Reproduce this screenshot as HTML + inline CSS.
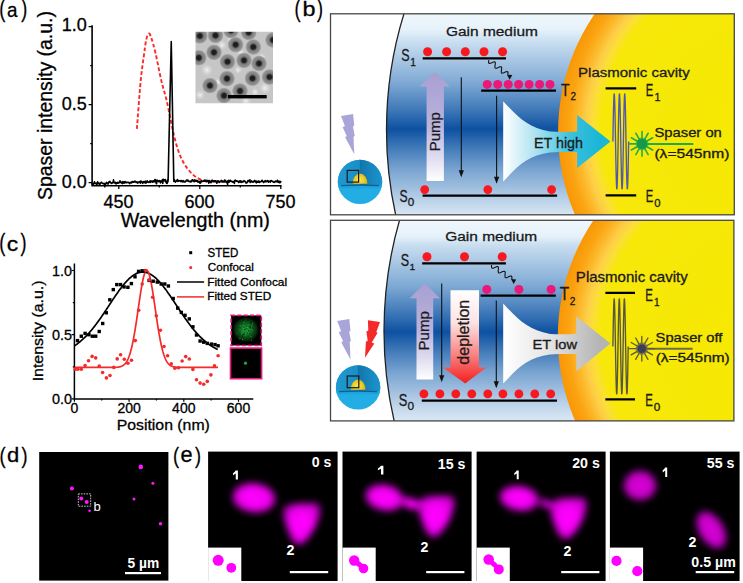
<!DOCTYPE html>
<html><head><meta charset="utf-8"><style>
html,body{margin:0;padding:0;background:#fff;}
svg{display:block;font-family:"Liberation Sans",sans-serif;}
.pt text{stroke:#000;stroke-width:0.3px;}
</style></head><body>
<svg width="743" height="583" viewBox="0 0 743 583">
<defs><clipPath id="temclip"><rect x="195.5" y="31.7" width="77.5" height="71.6"/></clipPath>
<radialGradient id="halo"><stop offset="0" stop-color="#1a1a1a"/><stop offset="0.28" stop-color="#242424"/><stop offset="0.42" stop-color="#6a6a6a"/><stop offset="0.56" stop-color="#848484"/><stop offset="0.78" stop-color="#8e8e8e"/><stop offset="0.9" stop-color="#a4a4a4" stop-opacity="0.85"/><stop offset="1" stop-color="#b0b0b0" stop-opacity="0"/></radialGradient>
<radialGradient id="hil"><stop offset="0" stop-color="#f0f0f0"/><stop offset="1" stop-color="#e0e0e0" stop-opacity="0"/></radialGradient>
<filter id="temblur" x="0" y="0" width="1" height="1"><feGaussianBlur stdDeviation="0.5"/></filter>
<clipPath id="box1"><rect x="330.5" y="13.8" width="403.8" height="201"/></clipPath>
<linearGradient id="blue1" x1="0" y1="13.8" x2="0" y2="214.8" gradientUnits="userSpaceOnUse"><stop offset="0.0000" stop-color="#eef7fc"/><stop offset="0.0796" stop-color="#e6f2fa"/><stop offset="0.1403" stop-color="#c9def0"/><stop offset="0.3443" stop-color="#7ea9d4"/><stop offset="0.4836" stop-color="#3c76b7"/><stop offset="0.5731" stop-color="#0d51a1"/><stop offset="0.6627" stop-color="#3f78b8"/><stop offset="0.7721" stop-color="#78a3d0"/><stop offset="0.9612" stop-color="#c8dbee"/><stop offset="1.0000" stop-color="#d9e7f3"/></linearGradient>
<radialGradient id="yel1" cx="767.75" cy="132.3" r="209.7" gradientUnits="userSpaceOnUse"><stop offset="0.0000" stop-color="#f6e900"/><stop offset="0.7949" stop-color="#f7e80a"/><stop offset="0.8331" stop-color="#fbdf36"/><stop offset="0.8665" stop-color="#fdcf48"/><stop offset="0.9046" stop-color="#fcb92c"/><stop offset="0.9475" stop-color="#fba412"/><stop offset="1.0000" stop-color="#f99606"/></radialGradient>
<clipPath id="box2"><rect x="330.5" y="220.3" width="403.4" height="200.6"/></clipPath>
<linearGradient id="blue2" x1="0" y1="220.3" x2="0" y2="420.9" gradientUnits="userSpaceOnUse"><stop offset="0.0000" stop-color="#eef7fc"/><stop offset="0.0798" stop-color="#e6f2fa"/><stop offset="0.1231" stop-color="#c9def0"/><stop offset="0.3275" stop-color="#7ea9d4"/><stop offset="0.4671" stop-color="#3c76b7"/><stop offset="0.5568" stop-color="#0d51a1"/><stop offset="0.6466" stop-color="#3f78b8"/><stop offset="0.7562" stop-color="#78a3d0"/><stop offset="0.9457" stop-color="#c8dbee"/><stop offset="1.0000" stop-color="#d9e7f3"/></linearGradient>
<radialGradient id="yel2" cx="767.5" cy="337.3" r="209.7" gradientUnits="userSpaceOnUse"><stop offset="0.0000" stop-color="#f6e900"/><stop offset="0.7949" stop-color="#f7e80a"/><stop offset="0.8331" stop-color="#fbdf36"/><stop offset="0.8665" stop-color="#fdcf48"/><stop offset="0.9046" stop-color="#fcb92c"/><stop offset="0.9475" stop-color="#fba412"/><stop offset="1.0000" stop-color="#f99606"/></radialGradient>
<clipPath id="spha"><circle cx="360" cy="181.9" r="22.2"/></clipPath>
<radialGradient id="golda" cx="360" cy="181.3" r="10" gradientUnits="userSpaceOnUse" fx="359" fy="179.3"><stop offset="0" stop-color="#f9e45a"/><stop offset="0.55" stop-color="#e9c61c"/><stop offset="1" stop-color="#b89310"/></radialGradient>
<linearGradient id="rwa" x1="359.6" y1="0" x2="382" y2="0" gradientUnits="userSpaceOnUse"><stop offset="0" stop-color="#1274a9"/><stop offset="0.5" stop-color="#1786bd"/><stop offset="1" stop-color="#1b93cb"/></linearGradient>
<linearGradient id="lwa" x1="338" y1="0" x2="359.6" y2="0" gradientUnits="userSpaceOnUse"><stop offset="0" stop-color="#1e9ad1"/><stop offset="1" stop-color="#1a8ec6"/></linearGradient>
<linearGradient id="pump1" x1="0" y1="72" x2="0" y2="181" gradientUnits="userSpaceOnUse"><stop offset="0" stop-color="#a79fd1"/><stop offset="0.5" stop-color="#bab3dd"/><stop offset="0.8" stop-color="#e2dff0"/><stop offset="1" stop-color="#ffffff"/></linearGradient>
<linearGradient id="et1" x1="503" y1="0" x2="600" y2="0" gradientUnits="userSpaceOnUse"><stop offset="0" stop-color="#ffffff"/><stop offset="0.35" stop-color="#a9e1f0"/><stop offset="0.7" stop-color="#3cc0dc"/><stop offset="1" stop-color="#19b6d6"/></linearGradient>
<clipPath id="sphb"><circle cx="358.1" cy="387.4" r="22.2"/></clipPath>
<radialGradient id="goldb" cx="358.1" cy="387.3" r="10" gradientUnits="userSpaceOnUse" fx="357.1" fy="385.3"><stop offset="0" stop-color="#f9e45a"/><stop offset="0.55" stop-color="#e9c61c"/><stop offset="1" stop-color="#b89310"/></radialGradient>
<linearGradient id="rwb" x1="357.7" y1="0" x2="380.1" y2="0" gradientUnits="userSpaceOnUse"><stop offset="0" stop-color="#1274a9"/><stop offset="0.5" stop-color="#1786bd"/><stop offset="1" stop-color="#1b93cb"/></linearGradient>
<linearGradient id="lwb" x1="336.1" y1="0" x2="357.7" y2="0" gradientUnits="userSpaceOnUse"><stop offset="0" stop-color="#1e9ad1"/><stop offset="1" stop-color="#1a8ec6"/></linearGradient>
<linearGradient id="pump2" x1="0" y1="283" x2="0" y2="379.4" gradientUnits="userSpaceOnUse"><stop offset="0" stop-color="#a79fd1"/><stop offset="0.5" stop-color="#bab3dd"/><stop offset="0.8" stop-color="#e2dff0"/><stop offset="1" stop-color="#ffffff"/></linearGradient>
<linearGradient id="depl" x1="0" y1="290" x2="0" y2="383.4" gradientUnits="userSpaceOnUse"><stop offset="0" stop-color="#ffffff"/><stop offset="0.35" stop-color="#fde3e3"/><stop offset="0.7" stop-color="#f98080"/><stop offset="1" stop-color="#f41e1e"/></linearGradient>
<linearGradient id="et2" x1="503" y1="0" x2="600" y2="0" gradientUnits="userSpaceOnUse"><stop offset="0" stop-color="#ffffff"/><stop offset="0.45" stop-color="#e6e6e6"/><stop offset="1" stop-color="#b4b4b4"/></linearGradient>
<radialGradient id="gblob"><stop offset="0" stop-color="#1e9c38"/><stop offset="0.25" stop-color="#168530"/><stop offset="0.55" stop-color="#0c5019"/><stop offset="0.8" stop-color="#06280c"/><stop offset="1" stop-color="#000" stop-opacity="0"/></radialGradient>
<filter id="blur" x="-50%" y="-50%" width="200%" height="200%"><feGaussianBlur stdDeviation="3.8"/></filter>
<radialGradient id="mg"><stop offset="0" stop-color="#ff00ff"/><stop offset="0.55" stop-color="#f800f8"/><stop offset="1" stop-color="#c800c8"/></radialGradient>
<filter id="blur2" x="-50%" y="-50%" width="200%" height="200%"><feGaussianBlur stdDeviation="0.7"/></filter>
<clipPath id="ep0"><rect x="208.1" y="451.6" width="129.5" height="129.4"/></clipPath>
<clipPath id="ep1"><rect x="342.5" y="451.6" width="129.1" height="129.4"/></clipPath>
<clipPath id="ep2"><rect x="476.6" y="451.6" width="129" height="129.4"/></clipPath>
<clipPath id="ep3"><rect x="609.9" y="451.6" width="129.7" height="129.4"/></clipPath></defs>
<g id="pa" class="pt"><g stroke="#000" stroke-width="0.3"><text x="-0.82" y="16.7" font-size="23.18" textLength="6.03" lengthAdjust="spacingAndGlyphs">(</text>
<text x="21.19" y="16.7" font-size="23.18" textLength="6.03" lengthAdjust="spacingAndGlyphs">)</text>
<text x="7" y="16.5" font-size="20.63" textLength="10.5" lengthAdjust="spacingAndGlyphs">a</text></g>
<path d="M92.1 25.3 V186.6 M91.3 185.8 H281.6" stroke="#000" stroke-width="1.6" fill="none"/>
<path d="M88.6 182.6 H92 M88.6 104.6 H92 M88.6 26.6 H92 M90.2 143.6 H92 M90.2 65.6 H92 M118.8 185.8 V189 M199.8 185.8 V189 M280.8 185.8 V189 M159.3 185.8 V187.6 M240.3 185.8 V187.6" stroke="#000" stroke-width="1.3" fill="none"/>
<text x="86.9" y="31.3" font-size="18" text-anchor="end">1.0</text>
<text x="86.9" y="109.6" font-size="18" text-anchor="end">0.5</text>
<text x="86.9" y="187.5" font-size="18" text-anchor="end">0.0</text>
<text x="118.6" y="207.6" font-size="18" text-anchor="middle">450</text>
<text x="199.6" y="207.6" font-size="18" text-anchor="middle">600</text>
<text x="280.6" y="207.6" font-size="18" text-anchor="middle">750</text>
<text x="120.71" y="226.6" font-size="19.48" textLength="149.2" lengthAdjust="spacingAndGlyphs">Wavelength (nm)</text>
<g transform="rotate(-90)"><text x="-200.08" y="52.3" font-size="19.77" textLength="188.99" lengthAdjust="spacingAndGlyphs">Spaser intensity (a.u.)</text></g>
<path d="M136.89 128.94 C137.51 121.06 139.48 93.65 140.62 81.67 C141.75 69.68 142.75 64.04 143.69 57.02 C144.64 50 145.44 43.45 146.29 39.55 C147.13 35.65 147.95 33.96 148.77 33.62 C149.59 33.28 150.07 34.27 151.2 37.52 C152.32 40.77 153.85 46.02 155.52 53.12 C157.18 60.22 159.39 72.44 161.19 80.11 C162.99 87.78 164.78 92.72 166.32 99.14 C167.86 105.56 169.07 112.27 170.42 118.64 C171.77 125.01 172.94 131.56 174.42 137.36 C175.9 143.16 177.52 148.83 179.28 153.43 C181.04 158.03 182.84 161.54 185 164.97 C187.16 168.4 189.68 171.6 192.24 174.02 C194.8 176.44 197.73 178.31 200.34 179.48 C202.95 180.65 204.84 180.68 207.9 181.04 C210.96 181.4 215.1 181.53 218.7 181.66 C222.3 181.79 227.7 181.79 229.5 181.82" stroke="#ff2828" stroke-width="1.9" fill="none" stroke-dasharray="3.8 2.2"/>
<path d="M91.8 184.38 L92.12 183.81 L92.45 184.48 L92.77 184.1 L93.1 184.55 L93.42 184.81 L93.74 183.35 L94.07 182.92 L94.39 181.81 L94.72 182.86 L95.04 183.16 L95.36 183.28 L95.69 183.26 L96.01 183.01 L96.34 184.27 L96.66 183.5 L96.98 184.32 L97.31 183.9 L97.63 181.84 L97.96 182.68 L98.28 183.23 L98.6 182.96 L98.93 183.14 L99.25 183.84 L99.58 185.27 L99.9 183.27 L100.22 183.95 L100.55 183.04 L100.87 182.93 L101.2 182.34 L101.52 182.27 L101.84 182.74 L102.17 183.05 L102.49 183.26 L102.82 183.43 L103.14 183.69 L103.46 183.41 L103.79 183.91 L104.11 183.56 L104.44 183.4 L104.76 186.82 L105.08 185.17 L105.41 184.35 L105.73 183.97 L106.06 183.63 L106.38 182.43 L106.7 182.58 L107.03 182.75 L107.35 183.38 L107.68 183.57 L108 184.07 L108.32 183.51 L108.65 182.61 L108.97 181.83 L109.3 182.11 L109.62 181.73 L109.94 181.28 L110.27 182.51 L110.59 182.64 L110.92 182.73 L111.24 182.99 L111.56 183.4 L111.89 183.28 L112.21 182.79 L112.54 182.77 L112.86 182.15 L113.18 182.77 L113.51 179.73 L113.83 182.26 L114.16 182.4 L114.48 182.4 L114.8 182.68 L115.13 183.22 L115.45 182.24 L115.78 183.61 L116.1 183.9 L116.42 183.42 L116.75 182.97 L117.07 182.44 L117.4 182.41 L117.72 183.11 L118.04 182.78 L118.37 182.79 L118.69 183.06 L119.02 182.34 L119.34 182.21 L119.66 182.32 L119.99 180.72 L120.31 182.4 L120.64 182.52 L120.96 182.61 L121.28 182.05 L121.61 182.56 L121.93 183.17 L122.26 183.56 L122.58 183.16 L122.9 181.48 L123.23 181.83 L123.55 182.55 L123.88 183.1 L124.2 182.34 L124.52 181.83 L124.85 182.89 L125.17 181.62 L125.5 182.41 L125.82 182.21 L126.14 182.33 L126.47 182.77 L126.79 182.27 L127.12 182.54 L127.44 182.36 L127.76 182.49 L128.09 182.33 L128.41 182.61 L128.74 182.23 L129.06 182.78 L129.38 182.8 L129.71 183.63 L130.03 182.77 L130.36 182.95 L130.68 182.73 L131 182 L131.33 182.51 L131.65 182.84 L131.98 182.66 L132.3 181.49 L132.62 181.67 L132.95 181.77 L133.27 182.15 L133.6 182.02 L133.92 182.14 L134.24 181.28 L134.57 181.34 L134.89 181.66 L135.22 181.29 L135.54 181.93 L135.86 181.53 L136.19 182.53 L136.51 181.89 L136.84 182.34 L137.16 182.17 L137.48 182.16 L137.81 183.15 L138.13 182.62 L138.46 182.08 L138.78 182.08 L139.1 181.8 L139.43 182.04 L139.75 181.61 L140.08 181.54 L140.4 183.13 L140.72 181 L141.05 181.88 L141.37 181.69 L141.7 181.41 L142.02 182.11 L142.34 182.49 L142.67 183.35 L142.99 182.06 L143.32 182.37 L143.64 181.58 L143.96 182.22 L144.29 182.7 L144.61 182 L144.94 181.56 L145.26 181.1 L145.58 182.11 L145.91 183.18 L146.23 182.58 L146.56 181.88 L146.88 182.39 L147.2 180.76 L147.53 181.23 L147.85 181.6 L148.18 182.25 L148.5 182.22 L148.82 182.52 L149.15 182.23 L149.47 182.02 L149.8 181.2 L150.12 180.93 L150.44 182.38 L150.77 181.72 L151.09 180.93 L151.42 181.24 L151.74 181.53 L152.06 181.74 L152.39 182.1 L152.71 181.1 L153.04 180.76 L153.36 181.14 L153.68 180.95 L154.01 182.1 L154.33 180.93 L154.66 180.73 L154.98 179.49 L155.3 179.5 L155.63 181.78 L155.95 181.73 L156.28 183.73 L156.6 183.64 L156.92 180.05 L157.25 180.24 L157.57 181.22 L157.9 181.32 L158.22 180.8 L158.54 180.92 L158.87 181.72 L159.19 180.73 L159.52 180.93 L159.84 180.54 L160.16 181.02 L160.49 182.95 L160.81 182.14 L161.14 181.44 L161.46 181.13 L161.78 181.79 L162.11 181.78 L162.43 179.55 L162.76 183.42 L163.08 179.6 L163.4 179.28 L163.73 180.83 L164.05 179.81 L164.38 180.63 L164.7 180.99 L165.02 180.51 L165.35 179.62 L165.67 180.11 L166 182.42 L166.32 181.16 L166.64 183.37 L166.97 183.34 L167.29 183.01 L167.62 182.16 L167.94 178.99 L168.1 181.35 L171.25 41.6 L173.8 181.35 L174.42 179.79 L174.74 180.94 L175.07 181.32 L175.39 182.08 L175.72 181.6 L176.04 181.53 L176.36 180.76 L176.69 180.86 L177.01 180.8 L177.34 179.58 L177.66 180.7 L177.98 181.49 L178.31 180.46 L178.63 180.75 L178.96 180.78 L179.28 180.93 L179.6 181.02 L179.93 180.47 L180.25 180.94 L180.58 180.82 L180.9 181.58 L181.22 181.53 L181.55 180.5 L181.87 180.81 L182.2 181.72 L182.52 181.94 L182.84 181.17 L183.17 180.59 L183.49 180.99 L183.82 181.16 L184.14 181.87 L184.46 181.61 L184.79 181.75 L185.11 182.02 L185.44 181.59 L185.76 181.25 L186.08 180.66 L186.41 180.1 L186.73 180.6 L187.06 181.04 L187.38 179.98 L187.7 180 L188.03 180.15 L188.35 180.7 L188.68 181.02 L189 181.69 L189.32 181.63 L189.65 181.55 L189.97 181.29 L190.3 181.04 L190.62 181.87 L190.94 181.21 L191.27 181.69 L191.59 181.7 L191.92 180.04 L192.24 180.61 L192.56 179.99 L192.89 179.79 L193.21 180.76 L193.54 180.61 L193.86 181.55 L194.18 181.79 L194.51 181.47 L194.83 179.75 L195.16 180.27 L195.48 180.67 L195.8 181.11 L196.13 181.33 L196.45 180.53 L196.78 180.42 L197.1 181.25 L197.42 180.76 L197.75 181.01 L198.07 182.17 L198.4 181.4 L198.72 182.03 L199.04 182 L199.37 181.4 L199.69 182.27 L200.02 183.13 L200.34 182.2 L200.66 182.97 L200.99 181.15 L201.31 180.53 L201.64 181.47 L201.96 181.6 L202.28 181.38 L202.61 181.52 L202.93 180.96 L203.26 180.86 L203.58 181.11 L203.9 180.87 L204.23 181.24 L204.55 181.03 L204.88 179.98 L205.2 181.27 L205.52 181.1 L205.85 181.63 L206.17 180.35 L206.5 181.28 L206.82 181.62 L207.14 181.04 L207.47 180.91 L207.79 180.41 L208.12 180.47 L208.44 181.49 L208.76 183.14 L209.09 181.47 L209.41 180.58 L209.74 181.1 L210.06 182.14 L210.38 182 L210.71 181.74 L211.03 182.72 L211.36 181.43 L211.68 180.63 L212 180.79 L212.33 180.11 L212.65 181.11 L212.98 180.89 L213.3 181.8 L213.62 181.53 L213.95 180.92 L214.27 181.41 L214.6 180.75 L214.92 181.85 L215.24 180.81 L215.57 181.28 L215.89 181.11 L216.22 181.78 L216.54 181.65 L216.86 183.22 L217.19 182.11 L217.51 181.16 L217.84 180.8 L218.16 180.9 L218.48 181.07 L218.81 181.56 L219.13 182.52 L219.46 182.56 L219.78 181.8 L220.1 181.22 L220.43 181.62 L220.75 181.72 L221.08 181.1 L221.4 180.4 L221.72 180.62 L222.05 181.59 L222.37 181.04 L222.7 181.47 L223.02 181.82 L223.34 181.56 L223.67 181.3 L223.99 181.87 L224.32 181.89 L224.64 179.96 L224.96 180.04 L225.29 180.68 L225.61 181.22 L225.94 182.06 L226.26 181.92 L226.58 181.27 L226.91 182.5 L227.23 183.3 L227.56 184.33 L227.88 180.83 L228.2 181.24 L228.53 180.45 L228.85 182.31 L229.18 181.6 L229.5 181.84 L229.82 180.7 L230.15 180.19 L230.47 180.24 L230.8 181.17 L231.12 181.36 L231.44 181.49 L231.77 181.26 L232.09 181.47 L232.42 181.98 L232.74 182.21 L233.06 181.45 L233.39 181.51 L233.71 181.56 L234.04 181.46 L234.36 183.4 L234.68 180.65 L235.01 180.42 L235.33 180.04 L235.66 181.03 L235.98 181.05 L236.3 180.76 L236.63 181.22 L236.95 180.73 L237.28 181.3 L237.6 181.22 L237.92 181.6 L238.25 181.81 L238.57 182.51 L238.9 181.8 L239.22 181.06 L239.54 181.33 L239.87 180.85 L240.19 182.33 L240.52 181.41 L240.84 180.77 L241.16 181.8 L241.49 182.29 L241.81 181.81 L242.14 182.08 L242.46 181.83 L242.78 181.32 L243.11 181.78 L243.43 181.79 L243.76 180.96 L244.08 180.72 L244.4 181.25 L244.73 181.01 L245.05 181.61 L245.38 181.75 L245.7 182.01 L246.02 183.05 L246.35 182.83 L246.67 183.02 L247 182.73 L247.32 181.9 L247.64 181.85 L247.97 180.56 L248.29 181.01 L248.62 180.57 L248.94 180.78 L249.26 181.36 L249.59 181.63 L249.91 179.71 L250.24 182.41 L250.56 182.47 L250.88 181.91 L251.21 181.69 L251.53 180.88 L251.86 181.55 L252.18 181.62 L252.5 182.16 L252.83 181.51 L253.15 181.52 L253.48 182.12 L253.8 181.39 L254.12 181.57 L254.45 180.87 L254.77 180.43 L255.1 180.83 L255.42 181.74 L255.74 182.06 L256.07 182.2 L256.39 182.8 L256.72 181.15 L257.04 181.43 L257.36 182.2 L257.69 181.63 L258.01 182.23 L258.34 182.03 L258.66 180.99 L258.98 181.02 L259.31 182.11 L259.63 182.42 L259.96 181.78 L260.28 181.6 L260.6 181.78 L260.93 181.62 L261.25 181.61 L261.58 181.16 L261.9 180.3 L262.22 180.47 L262.55 180.69 L262.87 181.62 L263.2 181.67 L263.52 182.41 L263.84 181.97 L264.17 182.11 L264.49 181.49 L264.82 181.59 L265.14 180.55 L265.46 180.67 L265.79 181.65 L266.11 181.1 L266.44 181.02 L266.76 181.65 L267.08 181.06 L267.41 181.48 L267.73 180.54 L268.06 181.69 L268.38 182.1 L268.7 181.41 L269.03 181.19 L269.35 181.48 L269.68 181.48 L270 181.73 L270.32 182.2 L270.65 180.86 L270.97 180.73 L271.3 180.59 L271.62 180.82 L271.94 181.1 L272.27 181.31 L272.59 181.2 L272.92 181.34 L273.24 182.08 L273.56 182.27 L273.89 182.23 L274.21 182.23 L274.54 182.39 L274.86 181.48 L275.18 181.7 L275.51 181.01 L275.83 181.18 L276.16 181.41 L276.48 181.82 L276.8 181.8 L277.13 181.34 L277.45 180.24 L277.78 182.02 L278.1 181.91 L278.42 182.41 L278.75 181.8 L279.07 181.16 L279.4 182.02 L279.72 182.74 L280.04 181.8 L280.37 182.51 L280.69 181.72 L281.02 180.9" stroke="#000" stroke-width="1.6" fill="none" stroke-linejoin="round"/>
<g clip-path="url(#temclip)"><g filter="url(#temblur)">
<rect x="193.5" y="29.7" width="81.5" height="75.6" fill="#c6c6c6"/>
<circle cx="222" cy="45" r="5" fill="url(#hil)"/>
<circle cx="241" cy="53" r="4" fill="url(#hil)"/>
<circle cx="207" cy="70" r="6" fill="url(#hil)"/>
<circle cx="238" cy="70" r="4" fill="url(#hil)"/>
<circle cx="262" cy="57" r="4" fill="url(#hil)"/>
<circle cx="265" cy="88" r="6" fill="url(#hil)"/>
<circle cx="200" cy="95" r="5" fill="url(#hil)"/>
<circle cx="246" cy="101" r="5" fill="url(#hil)"/>
<circle cx="230" cy="40" r="3" fill="url(#hil)"/>
<circle cx="218" cy="82" r="4" fill="url(#hil)"/>
<circle cx="255" cy="92" r="4" fill="url(#hil)"/>
<circle cx="199.8" cy="35.9" r="8.2" fill="url(#halo)"/>
<circle cx="215.5" cy="35.4" r="8.2" fill="url(#halo)"/>
<circle cx="231" cy="30.5" r="8.2" fill="url(#halo)"/>
<circle cx="248.7" cy="32.5" r="8.2" fill="url(#halo)"/>
<circle cx="235.6" cy="44.7" r="8.2" fill="url(#halo)"/>
<circle cx="253.3" cy="47" r="8.2" fill="url(#halo)"/>
<circle cx="214" cy="52.4" r="8.2" fill="url(#halo)"/>
<circle cx="198.8" cy="57.8" r="8.2" fill="url(#halo)"/>
<circle cx="227.5" cy="61.7" r="8.2" fill="url(#halo)"/>
<circle cx="244" cy="60.4" r="8.2" fill="url(#halo)"/>
<circle cx="259" cy="63.5" r="8.2" fill="url(#halo)"/>
<circle cx="227" cy="78.6" r="8.2" fill="url(#halo)"/>
<circle cx="252.5" cy="78.3" r="8.2" fill="url(#halo)"/>
<circle cx="269.5" cy="77" r="8.2" fill="url(#halo)"/>
<circle cx="210" cy="85.6" r="8.2" fill="url(#halo)"/>
<circle cx="240" cy="91" r="8.2" fill="url(#halo)"/>
<circle cx="224" cy="95.6" r="8.2" fill="url(#halo)"/>
<circle cx="273" cy="40" r="8.2" fill="url(#halo)"/>
</g></g>
<rect x="228" y="95" width="38.7" height="3.4" fill="#000"/></g>
<g clip-path="url(#box1)">
<rect x="330.5" y="13.8" width="403.8" height="201" fill="#fff"/>
<circle cx="782" cy="130" r="395.5" fill="url(#blue1)" stroke="#222" stroke-width="1.3"/>
<circle cx="767.75" cy="132.3" r="209.7" fill="url(#yel1)"/>
</g>
<rect x="330.5" y="13.8" width="403.8" height="201" fill="none" stroke="#474747" stroke-width="1.3"/>
<g clip-path="url(#box2)">
<rect x="330.5" y="220.3" width="403.4" height="200.6" fill="#fff"/>
<circle cx="786" cy="331" r="402" fill="url(#blue2)" stroke="#222" stroke-width="1.3"/>
<circle cx="767.5" cy="337.3" r="209.7" fill="url(#yel2)"/>
</g>
<rect x="330.5" y="220.3" width="403.4" height="200.6" fill="none" stroke="#474747" stroke-width="1.3"/>
<polygon points="341,115.9 353.1,113.9 354.3,125.6 353,126.4 354.7,135.7 353.5,136.9 354.3,154.3 345.1,137.3 346.8,135.9 342.6,127.2 344.9,125.9" fill="#a9a5d9"/>
<g clip-path="url(#spha)">
<rect x="335" y="156.9" width="50" height="50" fill="#22ade4"/>
<rect x="335" y="156.9" width="24.6" height="28.4" fill="url(#lwa)"/>
<rect x="359.6" y="156.9" width="25.4" height="28.4" fill="url(#rwa)"/>
<rect x="335" y="185.3" width="50" height="3" fill="#1ea4dc"/>
</g>
<path d="M341 185.6 Q360 184.8 379 185.6" stroke="#0e5f8e" stroke-width="1.3" fill="none"/>
<path d="M352.6 183.7 A7.4 10.2 0 0 1 367.4 183.7 Z" fill="url(#golda)"/>
<rect x="347.2" y="170.4" width="11.4" height="11.7" fill="none" stroke="#1a1a1a" stroke-width="1.2"/>
<polygon points="435,72 449.8,86.6 443.9,86.6 443.9,181 426.6,181 426.6,86.6 419.4,86.6" fill="url(#pump1)"/>
<path d="M461.3 77.3 V171.2" stroke="#111" stroke-width="1.1"/><polygon points="458.7,170.2 463.9,170.2 461.3,177.2" fill="#111"/>
<path d="M496.6 95.8 V177.8" stroke="#111" stroke-width="1.1"/><polygon points="494,176.8 499.2,176.8 496.6,183.8" fill="#111"/>
<path d="M422.7 58.4 H506 M481.2 90.6 H556 M422.6 195.6 H557.1" stroke="#000" stroke-width="2.3"/>
<circle cx="427.6" cy="51.8" r="4.5" fill="#f7191f"/>
<circle cx="446.6" cy="51.8" r="4.5" fill="#f7191f"/>
<circle cx="465.3" cy="51.8" r="4.5" fill="#f7191f"/>
<circle cx="484" cy="51.8" r="4.5" fill="#f7191f"/>
<circle cx="502.6" cy="51.8" r="4.5" fill="#f7191f"/>
<circle cx="487.2" cy="84.4" r="4.5" fill="#ec1778"/>
<circle cx="497.7" cy="84.4" r="4.5" fill="#ec1778"/>
<circle cx="508.2" cy="84.4" r="4.5" fill="#ec1778"/>
<circle cx="518.6" cy="84.4" r="4.5" fill="#ec1778"/>
<circle cx="529.1" cy="84.4" r="4.5" fill="#ec1778"/>
<circle cx="539.6" cy="84.4" r="4.5" fill="#ec1778"/>
<circle cx="550.0" cy="84.4" r="4.5" fill="#ec1778"/>
<circle cx="424.7" cy="189.6" r="4.4" fill="#f7191f"/>
<circle cx="487.8" cy="189.6" r="4.4" fill="#f7191f"/>
<circle cx="551.6" cy="189.6" r="4.4" fill="#f7191f"/>
<path d="M488.8 60.2 L488.71 60.81 L488.64 61.39 L488.6 61.93 L488.62 62.41 L488.69 62.8 L488.84 63.1 L489.07 63.3 L489.37 63.39 L489.74 63.4 L490.18 63.31 L490.68 63.16 L491.22 62.95 L491.78 62.72 L492.34 62.47 L492.9 62.24 L493.42 62.05 L493.9 61.92 L494.32 61.86 L494.68 61.89 L494.95 62.03 L495.15 62.26 L495.27 62.59 L495.33 63.01 L495.32 63.51 L495.27 64.06 L495.19 64.66 L495.1 65.27 L495.02 65.87 L494.96 66.45 L494.93 66.96 L494.97 67.41 L495.07 67.77 L495.24 68.04 L495.49 68.21 L495.82 68.27 L496.22 68.25 L496.68 68.14 L497.19 67.96 L497.74 67.74 L498.3 67.5 L498.86 67.26 L499.41 67.04 L499.92 66.86 L500.38 66.75 L500.78 66.73 L501.11 66.79 L501.36 66.96 L501.53 67.23 L501.63 67.59 L501.67 68.04 L501.64 68.55 L501.58 69.13 L501.5 69.73 L501.41 70.34 L501.33 70.94 L501.28 71.49 L501.27 71.99 L501.33 72.41 L501.45 72.74 L501.65 72.97 L501.92 73.11 L502.28 73.14 L502.7 73.08 L503.18 72.95 L503.7 72.76 L504.26 72.53 L504.82 72.28 L505.38 72.05 L505.92 71.84 L506.42 71.69 L506.86 71.6 L507.23 71.61 L507.53 71.7 L507.76 71.9 L507.91 72.2 L507.98 72.59 L508 73.07 L507.96 73.61 L507.89 74.19 L507.8 74.8" stroke="#111" stroke-width="1.1" fill="none"/>
<polygon points="507,74.8 512.3,75 509.6,79.8" fill="#111"/>
<path d="M503.2 101.2 C518 117 528 128 550 131.6 C560 132.4 570 131.8 577.1 131.4 L577.1 114.9 L610.5 141.5 L577.1 167.9 L577.1 152.2 C570 152 560 152 550 152.6 C528 155.2 518 166 503.2 181.4 Z" fill="url(#et1)"/>
<path d="M605.6 88.3 H636.2 M605.6 195.4 H636.2" stroke="#000" stroke-width="2.3"/>
<path d="M612.9 141.4 L612.94 139.16 L612.98 136.93 L613.02 134.71 L613.06 132.5 L613.1 130.31 L613.14 128.15 L613.18 126.01 L613.22 123.91 L613.25 121.85 L613.29 119.84 L613.33 117.87 L613.37 115.95 L613.41 114.09 L613.45 112.29 L613.49 110.55 L613.53 108.88 L613.57 107.29 L613.61 105.77 L613.65 104.33 L613.69 102.97 L613.73 101.7 L613.77 100.51 L613.81 99.42 L613.85 98.42 L613.88 97.52 L613.92 96.71 L613.96 96 L614 95.39 L614.04 94.89 L614.08 94.48 L614.12 94.19 L614.16 93.99 L614.2 93.91 L614.24 93.92 L614.28 94.05 L614.32 94.27 L614.36 94.61 L614.4 95.04 L614.44 95.58 L614.48 96.22 L614.51 96.97 L614.55 97.81 L614.59 98.74 L614.63 99.78 L614.67 100.9 L614.71 102.11 L614.75 103.41 L614.79 104.8 L614.83 106.27 L614.87 107.81 L614.91 109.43 L614.95 111.12 L614.99 112.88 L615.03 114.7 L615.07 116.58 L615.11 118.52 L615.14 120.5 L615.18 122.54 L615.22 124.61 L615.26 126.72 L615.3 128.87 L615.34 131.04 L615.38 133.23 L615.42 135.45 L615.46 137.67 L615.5 139.91 L615.54 142.15 L615.58 144.38 L615.62 146.61 L615.66 148.83 L615.7 151.03 L615.74 153.21 L615.77 155.37 L615.81 157.49 L615.85 159.58 L615.89 161.62 L615.93 163.63 L615.97 165.58 L616.01 167.48 L616.05 169.32 L616.09 171.1 L616.13 172.81 L616.17 174.46 L616.21 176.03 L616.25 177.52 L616.29 178.93 L616.33 180.26 L616.37 181.51 L616.4 182.66 L616.44 183.72 L616.48 184.69 L616.52 185.56 L616.56 186.34 L616.6 187.01 L616.64 187.59 L616.68 188.06 L616.72 188.43 L616.76 188.69 L616.8 188.85 L616.84 188.9 L616.88 188.85 L616.92 188.69 L616.96 188.43 L617 188.06 L617.03 187.59 L617.07 187.01 L617.11 186.34 L617.15 185.56 L617.19 184.69 L617.23 183.72 L617.27 182.66 L617.31 181.51 L617.35 180.26 L617.39 178.93 L617.43 177.52 L617.47 176.03 L617.51 174.46 L617.55 172.81 L617.59 171.1 L617.62 169.32 L617.66 167.48 L617.7 165.58 L617.74 163.63 L617.78 161.62 L617.82 159.58 L617.86 157.49 L617.9 155.37 L617.94 153.21 L617.98 151.03 L618.02 148.83 L618.06 146.61 L618.1 144.38 L618.14 142.15 L618.18 139.91 L618.22 137.67 L618.25 135.45 L618.29 133.23 L618.33 131.04 L618.37 128.87 L618.41 126.72 L618.45 124.61 L618.49 122.54 L618.53 120.5 L618.57 118.52 L618.61 116.58 L618.65 114.7 L618.69 112.88 L618.73 111.12 L618.77 109.43 L618.81 107.81 L618.85 106.27 L618.88 104.8 L618.92 103.41 L618.96 102.11 L619 100.9 L619.04 99.78 L619.08 98.74 L619.12 97.81 L619.16 96.97 L619.2 96.22 L619.24 95.58 L619.28 95.04 L619.32 94.61 L619.36 94.27 L619.4 94.05 L619.44 93.92 L619.48 93.91 L619.51 93.99 L619.55 94.19 L619.59 94.48 L619.63 94.89 L619.67 95.39 L619.71 96 L619.75 96.71 L619.79 97.52 L619.83 98.42 L619.87 99.42 L619.91 100.51 L619.95 101.7 L619.99 102.97 L620.03 104.33 L620.07 105.77 L620.11 107.29 L620.14 108.88 L620.18 110.55 L620.22 112.29 L620.26 114.09 L620.3 115.95 L620.34 117.87 L620.38 119.84 L620.42 121.85 L620.46 123.91 L620.5 126.01 L620.54 128.15 L620.58 130.31 L620.62 132.5 L620.66 134.71 L620.7 136.93 L620.74 139.16 L620.77 141.4 L620.81 143.64 L620.85 145.87 L620.89 148.09 L620.93 150.3 L620.97 152.49 L621.01 154.65 L621.05 156.79 L621.09 158.89 L621.13 160.95 L621.17 162.96 L621.21 164.93 L621.25 166.85 L621.29 168.71 L621.33 170.51 L621.37 172.25 L621.4 173.92 L621.44 175.51 L621.48 177.03 L621.52 178.47 L621.56 179.83 L621.6 181.1 L621.64 182.29 L621.68 183.38 L621.72 184.38 L621.76 185.28 L621.8 186.09 L621.84 186.8 L621.88 187.41 L621.92 187.91 L621.96 188.32 L622 188.61 L622.03 188.81 L622.07 188.89 L622.11 188.88 L622.15 188.75 L622.19 188.53 L622.23 188.19 L622.27 187.76 L622.31 187.22 L622.35 186.58 L622.39 185.83 L622.43 184.99 L622.47 184.06 L622.51 183.02 L622.55 181.9 L622.59 180.69 L622.63 179.39 L622.66 178 L622.7 176.53 L622.74 174.99 L622.78 173.37 L622.82 171.68 L622.86 169.92 L622.9 168.1 L622.94 166.22 L622.98 164.28 L623.02 162.3 L623.06 160.26 L623.1 158.19 L623.14 156.08 L623.18 153.93 L623.22 151.76 L623.26 149.57 L623.29 147.35 L623.33 145.13 L623.37 142.89 L623.41 140.65 L623.45 138.42 L623.49 136.19 L623.53 133.97 L623.57 131.77 L623.61 129.59 L623.65 127.43 L623.69 125.31 L623.73 123.22 L623.77 121.18 L623.81 119.17 L623.85 117.22 L623.89 115.32 L623.92 113.48 L623.96 111.7 L624 109.99 L624.04 108.34 L624.08 106.77 L624.12 105.28 L624.16 103.87 L624.2 102.54 L624.24 101.29 L624.28 100.14 L624.32 99.08 L624.36 98.11 L624.4 97.24 L624.44 96.46 L624.48 95.79 L624.52 95.21 L624.55 94.74 L624.59 94.37 L624.63 94.11 L624.67 93.95 L624.71 93.9 L624.75 93.95 L624.79 94.11 L624.83 94.37 L624.87 94.74 L624.91 95.21 L624.95 95.79 L624.99 96.46 L625.03 97.24 L625.07 98.11 L625.11 99.08 L625.15 100.14 L625.18 101.29 L625.22 102.54 L625.26 103.87 L625.3 105.28 L625.34 106.77 L625.38 108.34 L625.42 109.99 L625.46 111.7 L625.5 113.48 L625.54 115.32 L625.58 117.22 L625.62 119.17 L625.66 121.18 L625.7 123.22 L625.74 125.31 L625.78 127.43 L625.81 129.59 L625.85 131.77 L625.89 133.97 L625.93 136.19 L625.97 138.42 L626.01 140.65 L626.05 142.89 L626.09 145.13 L626.13 147.35 L626.17 149.57 L626.21 151.76 L626.25 153.93 L626.29 156.08 L626.33 158.19 L626.37 160.26 L626.41 162.3 L626.44 164.28 L626.48 166.22 L626.52 168.1 L626.56 169.92 L626.6 171.68 L626.64 173.37 L626.68 174.99 L626.72 176.53 L626.76 178 L626.8 179.39 L626.84 180.69 L626.88 181.9 L626.92 183.02 L626.96 184.06 L627 184.99 L627.04 185.83 L627.07 186.58 L627.11 187.22 L627.15 187.76 L627.19 188.19 L627.23 188.53 L627.27 188.75 L627.31 188.88 L627.35 188.89 L627.39 188.81 L627.43 188.61 L627.47 188.32 L627.51 187.91 L627.55 187.41 L627.59 186.8 L627.63 186.09 L627.67 185.28 L627.7 184.38 L627.74 183.38 L627.78 182.29 L627.82 181.1 L627.86 179.83 L627.9 178.47 L627.94 177.03 L627.98 175.51 L628.02 173.92 L628.06 172.25 L628.1 170.51 L628.14 168.71 L628.18 166.85 L628.22 164.93 L628.26 162.96 L628.3 160.95 L628.33 158.89 L628.37 156.79 L628.41 154.65 L628.45 152.49 L628.49 150.3 L628.53 148.09 L628.57 145.87 L628.61 143.64 L628.65 141.4" stroke="#5257a8" stroke-width="1.35" fill="none" stroke-linejoin="round"/>
<path d="M642 144.1 H693.3" stroke="#22aa4a" stroke-width="2"/>
<path d="M647.8 143.9 L654.3 143.9 M647.02 146.8 L652.65 150.05 M644.9 148.92 L648.15 154.55 M642 149.7 L642 156.2 M639.1 148.92 L635.85 154.55 M636.98 146.8 L631.35 150.05 M636.2 143.9 L629.7 143.9 M636.98 141 L631.35 137.75 M639.1 138.88 L635.85 133.25 M642 138.1 L642 131.6 M644.9 138.88 L648.15 133.25 M647.02 141 L652.65 137.75" stroke="#22ad4b" stroke-width="1.6" stroke-linecap="round" fill="none"/>
<polygon points="648.8,143.9 647.17,144.48 648.63,145.41 646.91,145.62 648.13,146.85 646.4,146.67 647.32,148.14 645.68,147.58 646.24,149.22 644.77,148.3 644.95,150.03 643.72,148.81 643.51,150.53 642.58,149.07 642,150.7 641.42,149.07 640.49,150.53 640.28,148.81 639.05,150.03 639.23,148.3 637.76,149.22 638.32,147.58 636.68,148.14 637.6,146.67 635.87,146.85 637.09,145.62 635.37,145.41 636.83,144.48 635.2,143.9 636.83,143.32 635.37,142.39 637.09,142.18 635.87,140.95 637.6,141.13 636.68,139.66 638.32,140.22 637.76,138.58 639.23,139.5 639.05,137.77 640.28,138.99 640.49,137.27 641.42,138.73 642,137.1 642.58,138.73 643.51,137.27 643.72,138.99 644.95,137.77 644.77,139.5 646.24,138.58 645.68,140.22 647.32,139.66 646.4,141.13 648.13,140.95 646.91,142.18 648.63,142.39 647.17,143.32" fill="#1fa64a"/>
<circle cx="642" cy="143.9" r="5" fill="#14994a"/>
<polygon points="337.2,321 349.3,319 350.5,330.7 349.2,331.5 350.9,340.8 349.7,342 350.5,359.4 341.3,342.4 343,341 338.8,332.3 341.1,331" fill="#a9a5d9"/>
<polygon points="367.9,320.2 380,322.1 376.3,332.1 377.5,333.1 371.7,342.4 374.3,343.4 365,357.7 365.9,341.6 367.7,341 366.4,331.5 368.3,330.5" fill="#f42a2a"/>
<g clip-path="url(#sphb)">
<rect x="333.1" y="362.4" width="50" height="50" fill="#22ade4"/>
<rect x="333.1" y="362.4" width="24.6" height="28.9" fill="url(#lwb)"/>
<rect x="357.7" y="362.4" width="25.4" height="28.9" fill="url(#rwb)"/>
<rect x="333.1" y="391.3" width="50" height="3" fill="#1ea4dc"/>
</g>
<path d="M339.1 391.6 Q358.1 390.8 377.1 391.6" stroke="#0e5f8e" stroke-width="1.3" fill="none"/>
<path d="M350.7 389.7 A7.4 10.2 0 0 1 365.5 389.7 Z" fill="url(#goldb)"/>
<rect x="347.2" y="376" width="11.6" height="11.7" fill="none" stroke="#1a1a1a" stroke-width="1.2"/>
<polygon points="424.85,283.1 439.9,298.3 433.2,298.3 433.2,379.4 416.5,379.4 416.5,298.3 409.8,298.3" fill="url(#pump2)"/>
<polygon points="450.5,290.3 479,290.3 479,367.4 486.4,367.4 465.2,383.4 443,367.4 450.5,367.4" fill="url(#depl)"/>
<path d="M441.7 283.6 V376.3" stroke="#111" stroke-width="1.1"/><polygon points="439.1,375.3 444.3,375.3 441.7,382.3" fill="#111"/>
<path d="M496.3 300.4 V382.2" stroke="#111" stroke-width="1.1"/><polygon points="493.7,381.2 498.9,381.2 496.3,388.2" fill="#111"/>
<path d="M422.2 263.3 H505.9 M480.6 295.6 H555.8 M421.8 400.7 H557" stroke="#000" stroke-width="2.3"/>
<circle cx="427.0" cy="256.7" r="4.5" fill="#f7191f"/>
<circle cx="464.5" cy="256.7" r="4.5" fill="#f7191f"/>
<circle cx="502.2" cy="256.7" r="4.5" fill="#f7191f"/>
<circle cx="486.8" cy="289.4" r="4.5" fill="#ec1778"/>
<circle cx="518.9" cy="289.4" r="4.5" fill="#ec1778"/>
<circle cx="551.1" cy="289.4" r="4.5" fill="#ec1778"/>
<circle cx="423.9" cy="393.9" r="4.4" fill="#f7191f"/>
<circle cx="439.9" cy="393.9" r="4.4" fill="#f7191f"/>
<circle cx="455.8" cy="393.9" r="4.4" fill="#f7191f"/>
<circle cx="471.8" cy="393.9" r="4.4" fill="#f7191f"/>
<circle cx="487.8" cy="393.9" r="4.4" fill="#f7191f"/>
<circle cx="502.9" cy="393.9" r="4.4" fill="#f7191f"/>
<circle cx="518.9" cy="393.9" r="4.4" fill="#f7191f"/>
<circle cx="534.8" cy="393.9" r="4.4" fill="#f7191f"/>
<circle cx="550.7" cy="393.9" r="4.4" fill="#f7191f"/>
<path d="M491.6 265 L491.54 265.62 L491.5 266.21 L491.5 266.75 L491.54 267.23 L491.64 267.63 L491.81 267.92 L492.05 268.12 L492.36 268.21 L492.74 268.2 L493.19 268.11 L493.69 267.94 L494.22 267.71 L494.78 267.46 L495.34 267.19 L495.89 266.94 L496.42 266.73 L496.9 266.59 L497.32 266.52 L497.68 266.54 L497.97 266.67 L498.19 266.9 L498.33 267.23 L498.41 267.65 L498.44 268.15 L498.42 268.72 L498.37 269.32 L498.31 269.94 L498.26 270.55 L498.23 271.13 L498.24 271.66 L498.3 272.11 L498.42 272.47 L498.61 272.73 L498.88 272.89 L499.22 272.95 L499.62 272.91 L500.08 272.79 L500.59 272.6 L501.14 272.36 L501.7 272.1 L502.26 271.84 L502.81 271.6 L503.32 271.41 L503.78 271.29 L504.18 271.25 L504.52 271.31 L504.79 271.47 L504.98 271.73 L505.1 272.09 L505.16 272.54 L505.17 273.07 L505.14 273.65 L505.09 274.26 L505.03 274.88 L504.98 275.48 L504.96 276.05 L504.99 276.55 L505.07 276.97 L505.21 277.3 L505.43 277.53 L505.72 277.66 L506.08 277.68 L506.5 277.61 L506.98 277.47 L507.51 277.26 L508.06 277.01 L508.62 276.74 L509.18 276.49 L509.71 276.26 L510.21 276.09 L510.66 276 L511.04 275.99 L511.35 276.08 L511.59 276.28 L511.76 276.57 L511.86 276.97 L511.9 277.45 L511.9 277.99 L511.86 278.58 L511.8 279.2" stroke="#111" stroke-width="1.1" fill="none"/>
<polygon points="511,279 516.2,279.6 513.6,284" fill="#111"/>
<path d="M503.2 303.5 C518 319.3 528 330.3 550 333.9 C560 334.7 570 334.1 576.3 333.7 L576.3 316.6 L610.5 343.5 L576.3 371.2 L576.3 354.2 C570 354 560 354 550 354.6 C528 357.2 518 368 503.2 383.4 Z" fill="url(#et2)"/>
<path d="M605.4 292.9 H635 M605.4 399.3 H635" stroke="#000" stroke-width="2.3"/>
<path d="M612.9 346.4 L612.94 344.16 L612.98 341.93 L613.01 339.71 L613.05 337.5 L613.09 335.31 L613.13 333.15 L613.17 331.01 L613.21 328.91 L613.24 326.85 L613.28 324.84 L613.32 322.87 L613.36 320.95 L613.4 319.09 L613.44 317.29 L613.47 315.55 L613.51 313.88 L613.55 312.29 L613.59 310.77 L613.63 309.33 L613.66 307.97 L613.7 306.7 L613.74 305.51 L613.78 304.42 L613.82 303.42 L613.86 302.52 L613.89 301.71 L613.93 301 L613.97 300.39 L614.01 299.89 L614.05 299.48 L614.09 299.19 L614.12 298.99 L614.16 298.91 L614.2 298.92 L614.24 299.05 L614.28 299.27 L614.32 299.61 L614.35 300.04 L614.39 300.58 L614.43 301.22 L614.47 301.97 L614.51 302.81 L614.54 303.74 L614.58 304.78 L614.62 305.9 L614.66 307.11 L614.7 308.41 L614.74 309.8 L614.77 311.27 L614.81 312.81 L614.85 314.43 L614.89 316.12 L614.93 317.88 L614.97 319.7 L615 321.58 L615.04 323.52 L615.08 325.5 L615.12 327.54 L615.16 329.61 L615.19 331.72 L615.23 333.87 L615.27 336.04 L615.31 338.23 L615.35 340.45 L615.39 342.67 L615.42 344.91 L615.46 347.15 L615.5 349.38 L615.54 351.61 L615.58 353.83 L615.62 356.03 L615.65 358.21 L615.69 360.37 L615.73 362.49 L615.77 364.58 L615.81 366.62 L615.85 368.63 L615.88 370.58 L615.92 372.48 L615.96 374.32 L616 376.1 L616.04 377.81 L616.07 379.46 L616.11 381.03 L616.15 382.52 L616.19 383.93 L616.23 385.26 L616.27 386.51 L616.3 387.66 L616.34 388.72 L616.38 389.69 L616.42 390.56 L616.46 391.34 L616.5 392.01 L616.53 392.59 L616.57 393.06 L616.61 393.43 L616.65 393.69 L616.69 393.85 L616.73 393.9 L616.76 393.85 L616.8 393.69 L616.84 393.43 L616.88 393.06 L616.92 392.59 L616.95 392.01 L616.99 391.34 L617.03 390.56 L617.07 389.69 L617.11 388.72 L617.15 387.66 L617.18 386.51 L617.22 385.26 L617.26 383.93 L617.3 382.52 L617.34 381.03 L617.38 379.46 L617.41 377.81 L617.45 376.1 L617.49 374.32 L617.53 372.48 L617.57 370.58 L617.6 368.63 L617.64 366.62 L617.68 364.58 L617.72 362.49 L617.76 360.37 L617.8 358.21 L617.83 356.03 L617.87 353.83 L617.91 351.61 L617.95 349.38 L617.99 347.15 L618.03 344.91 L618.06 342.67 L618.1 340.45 L618.14 338.23 L618.18 336.04 L618.22 333.87 L618.25 331.72 L618.29 329.61 L618.33 327.54 L618.37 325.5 L618.41 323.52 L618.45 321.58 L618.48 319.7 L618.52 317.88 L618.56 316.12 L618.6 314.43 L618.64 312.81 L618.68 311.27 L618.71 309.8 L618.75 308.41 L618.79 307.11 L618.83 305.9 L618.87 304.78 L618.91 303.74 L618.94 302.81 L618.98 301.97 L619.02 301.22 L619.06 300.58 L619.1 300.04 L619.13 299.61 L619.17 299.27 L619.21 299.05 L619.25 298.92 L619.29 298.91 L619.33 298.99 L619.36 299.19 L619.4 299.48 L619.44 299.89 L619.48 300.39 L619.52 301 L619.56 301.71 L619.59 302.52 L619.63 303.42 L619.67 304.42 L619.71 305.51 L619.75 306.7 L619.78 307.97 L619.82 309.33 L619.86 310.77 L619.9 312.29 L619.94 313.88 L619.98 315.55 L620.01 317.29 L620.05 319.09 L620.09 320.95 L620.13 322.87 L620.17 324.84 L620.21 326.85 L620.24 328.91 L620.28 331.01 L620.32 333.15 L620.36 335.31 L620.4 337.5 L620.44 339.71 L620.47 341.93 L620.51 344.16 L620.55 346.4 L620.59 348.64 L620.63 350.87 L620.66 353.09 L620.7 355.3 L620.74 357.49 L620.78 359.65 L620.82 361.79 L620.86 363.89 L620.89 365.95 L620.93 367.96 L620.97 369.93 L621.01 371.85 L621.05 373.71 L621.09 375.51 L621.12 377.25 L621.16 378.92 L621.2 380.51 L621.24 382.03 L621.28 383.47 L621.31 384.83 L621.35 386.1 L621.39 387.29 L621.43 388.38 L621.47 389.38 L621.51 390.28 L621.54 391.09 L621.58 391.8 L621.62 392.41 L621.66 392.91 L621.7 393.32 L621.74 393.61 L621.77 393.81 L621.81 393.89 L621.85 393.88 L621.89 393.75 L621.93 393.53 L621.97 393.19 L622 392.76 L622.04 392.22 L622.08 391.58 L622.12 390.83 L622.16 389.99 L622.19 389.06 L622.23 388.02 L622.27 386.9 L622.31 385.69 L622.35 384.39 L622.39 383 L622.42 381.53 L622.46 379.99 L622.5 378.37 L622.54 376.68 L622.58 374.92 L622.62 373.1 L622.65 371.22 L622.69 369.28 L622.73 367.3 L622.77 365.26 L622.81 363.19 L622.85 361.08 L622.88 358.93 L622.92 356.76 L622.96 354.57 L623 352.35 L623.04 350.13 L623.07 347.89 L623.11 345.65 L623.15 343.42 L623.19 341.19 L623.23 338.97 L623.27 336.77 L623.3 334.59 L623.34 332.43 L623.38 330.31 L623.42 328.22 L623.46 326.18 L623.5 324.17 L623.53 322.22 L623.57 320.32 L623.61 318.48 L623.65 316.7 L623.69 314.99 L623.72 313.34 L623.76 311.77 L623.8 310.28 L623.84 308.87 L623.88 307.54 L623.92 306.29 L623.95 305.14 L623.99 304.08 L624.03 303.11 L624.07 302.24 L624.11 301.46 L624.15 300.79 L624.18 300.21 L624.22 299.74 L624.26 299.37 L624.3 299.11 L624.34 298.95 L624.38 298.9 L624.41 298.95 L624.45 299.11 L624.49 299.37 L624.53 299.74 L624.57 300.21 L624.6 300.79 L624.64 301.46 L624.68 302.24 L624.72 303.11 L624.76 304.08 L624.8 305.14 L624.83 306.29 L624.87 307.54 L624.91 308.87 L624.95 310.28 L624.99 311.77 L625.03 313.34 L625.06 314.99 L625.1 316.7 L625.14 318.48 L625.18 320.32 L625.22 322.22 L625.25 324.17 L625.29 326.18 L625.33 328.22 L625.37 330.31 L625.41 332.43 L625.45 334.59 L625.48 336.77 L625.52 338.97 L625.56 341.19 L625.6 343.42 L625.64 345.65 L625.68 347.89 L625.71 350.13 L625.75 352.35 L625.79 354.57 L625.83 356.76 L625.87 358.93 L625.9 361.08 L625.94 363.19 L625.98 365.26 L626.02 367.3 L626.06 369.28 L626.1 371.22 L626.13 373.1 L626.17 374.92 L626.21 376.68 L626.25 378.37 L626.29 379.99 L626.33 381.53 L626.36 383 L626.4 384.39 L626.44 385.69 L626.48 386.9 L626.52 388.02 L626.56 389.06 L626.59 389.99 L626.63 390.83 L626.67 391.58 L626.71 392.22 L626.75 392.76 L626.78 393.19 L626.82 393.53 L626.86 393.75 L626.9 393.88 L626.94 393.89 L626.98 393.81 L627.01 393.61 L627.05 393.32 L627.09 392.91 L627.13 392.41 L627.17 391.8 L627.21 391.09 L627.24 390.28 L627.28 389.38 L627.32 388.38 L627.36 387.29 L627.4 386.1 L627.43 384.83 L627.47 383.47 L627.51 382.03 L627.55 380.51 L627.59 378.92 L627.63 377.25 L627.66 375.51 L627.7 373.71 L627.74 371.85 L627.78 369.93 L627.82 367.96 L627.86 365.95 L627.89 363.89 L627.93 361.79 L627.97 359.65 L628.01 357.49 L628.05 355.3 L628.09 353.09 L628.12 350.87 L628.16 348.64 L628.2 346.4" stroke="#57563e" stroke-width="1.35" fill="none" stroke-linejoin="round"/>
<path d="M641.8 348.7 H692.6" stroke="#6e6c4e" stroke-width="2"/>
<path d="M647.6 348.7 L654.1 348.7 M646.82 351.6 L652.45 354.85 M644.7 353.72 L647.95 359.35 M641.8 354.5 L641.8 361 M638.9 353.72 L635.65 359.35 M636.78 351.6 L631.15 354.85 M636 348.7 L629.5 348.7 M636.78 345.8 L631.15 342.55 M638.9 343.68 L635.65 338.05 M641.8 342.9 L641.8 336.4 M644.7 343.68 L647.95 338.05 M646.82 345.8 L652.45 342.55" stroke="#5a5838" stroke-width="1.3" stroke-linecap="round" fill="none"/>
<polygon points="648.6,348.7 646.97,349.28 648.43,350.21 646.71,350.42 647.93,351.65 646.2,351.47 647.12,352.94 645.48,352.38 646.04,354.02 644.57,353.1 644.75,354.83 643.52,353.61 643.31,355.33 642.38,353.87 641.8,355.5 641.22,353.87 640.29,355.33 640.08,353.61 638.85,354.83 639.03,353.1 637.56,354.02 638.12,352.38 636.48,352.94 637.4,351.47 635.67,351.65 636.89,350.42 635.17,350.21 636.63,349.28 635,348.7 636.63,348.12 635.17,347.19 636.89,346.98 635.67,345.75 637.4,345.93 636.48,344.46 638.12,345.02 637.56,343.38 639.03,344.3 638.85,342.57 640.08,343.79 640.29,342.07 641.22,343.53 641.8,341.9 642.38,343.53 643.31,342.07 643.52,343.79 644.75,342.57 644.57,344.3 646.04,343.38 645.48,345.02 647.12,344.46 646.2,345.93 647.93,345.75 646.71,346.98 648.43,347.19 646.97,348.12" fill="#6c6a48"/>
<circle cx="641.8" cy="348.7" r="4.2" fill="#3b3e55"/>
<g stroke="#000" stroke-width="0.3"><text x="445.92" y="36" font-size="13.52" textLength="92" lengthAdjust="spacingAndGlyphs" fill="#1a1a1a" stroke="#1a1a1a" stroke-width="0.3">Gain medium</text>
<text x="578.07" y="77.4" font-size="13.66" textLength="111.66" lengthAdjust="spacingAndGlyphs" fill="#1a1a1a" stroke="#1a1a1a" stroke-width="0.3">Plasmonic cavity</text>
<text x="534.04" y="147.6" font-size="14.39" textLength="48.88" lengthAdjust="spacingAndGlyphs" fill="#1a1a1a" stroke="#1a1a1a" stroke-width="0.3">ET high</text>
<text x="654.43" y="137.1" font-size="12.35" textLength="67.43" lengthAdjust="spacingAndGlyphs" fill="#1a1a1a" stroke="#1a1a1a" stroke-width="0.3">Spaser on</text>
<text x="654.43" y="157.5" font-size="12.06" textLength="74.93" lengthAdjust="spacingAndGlyphs" fill="#1a1a1a" stroke="#1a1a1a" stroke-width="0.3">(λ=545nm)</text>
<g transform="rotate(-90)"><text x="-151.22" y="439.5" font-size="14.83" textLength="38.95" lengthAdjust="spacingAndGlyphs" fill="#1a1a1a" stroke="#1a1a1a" stroke-width="0.25">Pump</text></g>
<text x="401.33" y="60.64" font-size="16.53" textLength="8.34" lengthAdjust="spacingAndGlyphs" fill="#1a1a1a" stroke="#1a1a1a" stroke-width="0.3">S</text>
<text x="410.32" y="65.5" font-size="10.47" textLength="5.68" lengthAdjust="spacingAndGlyphs" fill="#1a1a1a" stroke="#1a1a1a" stroke-width="0.3">1</text>
<text x="399.55" y="201.63" font-size="17.09" textLength="8.11" lengthAdjust="spacingAndGlyphs" fill="#1a1a1a" stroke="#1a1a1a" stroke-width="0.3">S</text>
<text x="407.74" y="206.19" font-size="11.3" textLength="6.52" lengthAdjust="spacingAndGlyphs" fill="#1a1a1a" stroke="#1a1a1a" stroke-width="0.3">0</text>
<text x="560.88" y="95.5" font-size="17.15" textLength="8.64" lengthAdjust="spacingAndGlyphs" fill="#1a1a1a" stroke="#1a1a1a" stroke-width="0.3">T</text>
<text x="570.4" y="100" font-size="10.6" textLength="5.49" lengthAdjust="spacingAndGlyphs" fill="#1a1a1a" stroke="#1a1a1a" stroke-width="0.3">2</text>
<text x="645.78" y="95.7" font-size="16.42" textLength="7.51" lengthAdjust="spacingAndGlyphs" fill="#1a1a1a" stroke="#1a1a1a" stroke-width="0.3">E</text>
<text x="654.49" y="100.6" font-size="10.76" textLength="5.93" lengthAdjust="spacingAndGlyphs" fill="#1a1a1a" stroke="#1a1a1a" stroke-width="0.3">1</text>
<text x="645.78" y="202.3" font-size="16.28" textLength="7.51" lengthAdjust="spacingAndGlyphs" fill="#1a1a1a" stroke="#1a1a1a" stroke-width="0.3">E</text>
<text x="654.26" y="206.89" font-size="11.02" textLength="6.28" lengthAdjust="spacingAndGlyphs" fill="#1a1a1a" stroke="#1a1a1a" stroke-width="0.3">0</text>
<text x="445.22" y="240.7" font-size="13.08" textLength="92" lengthAdjust="spacingAndGlyphs" fill="#1a1a1a" stroke="#1a1a1a" stroke-width="0.3">Gain medium</text>
<text x="575.87" y="281.6" font-size="13.81" textLength="111.86" lengthAdjust="spacingAndGlyphs" fill="#1a1a1a" stroke="#1a1a1a" stroke-width="0.3">Plasmonic cavity</text>
<text x="532.61" y="348.9" font-size="12.94" textLength="44.46" lengthAdjust="spacingAndGlyphs" fill="#1a1a1a" stroke="#1a1a1a" stroke-width="0.3">ET low</text>
<text x="655.64" y="341.7" font-size="12.35" textLength="66.74" lengthAdjust="spacingAndGlyphs" fill="#1a1a1a" stroke="#1a1a1a" stroke-width="0.3">Spaser off</text>
<text x="655.65" y="362" font-size="12.21" textLength="74.01" lengthAdjust="spacingAndGlyphs" fill="#1a1a1a" stroke="#1a1a1a" stroke-width="0.3">(λ=545nm)</text>
<g transform="rotate(-90)"><text x="-350.54" y="428.9" font-size="14.68" textLength="39.37" lengthAdjust="spacingAndGlyphs" fill="#1a1a1a" stroke="#1a1a1a" stroke-width="0.25">Pump</text></g>
<g transform="rotate(-90)"><text x="-364.67" y="469.4" font-size="15.71" textLength="64.91" lengthAdjust="spacingAndGlyphs" fill="#1a1a1a" stroke="#1a1a1a" stroke-width="0.25">depletion</text></g>
<text x="400.73" y="265.64" font-size="16.24" textLength="8.34" lengthAdjust="spacingAndGlyphs" fill="#1a1a1a" stroke="#1a1a1a" stroke-width="0.3">S</text>
<text x="409.52" y="270.3" font-size="9.88" textLength="5.68" lengthAdjust="spacingAndGlyphs" fill="#1a1a1a" stroke="#1a1a1a" stroke-width="0.3">1</text>
<text x="398.82" y="405.63" font-size="17.23" textLength="8.57" lengthAdjust="spacingAndGlyphs" fill="#1a1a1a" stroke="#1a1a1a" stroke-width="0.3">S</text>
<text x="407.63" y="410.39" font-size="11.58" textLength="6.63" lengthAdjust="spacingAndGlyphs" fill="#1a1a1a" stroke="#1a1a1a" stroke-width="0.3">0</text>
<text x="559.85" y="300.4" font-size="17.44" textLength="9.4" lengthAdjust="spacingAndGlyphs" fill="#1a1a1a" stroke="#1a1a1a" stroke-width="0.3">T</text>
<text x="569.79" y="304.5" font-size="10.31" textLength="5.62" lengthAdjust="spacingAndGlyphs" fill="#1a1a1a" stroke="#1a1a1a" stroke-width="0.3">2</text>
<text x="645.16" y="300.5" font-size="16.13" textLength="7.63" lengthAdjust="spacingAndGlyphs" fill="#1a1a1a" stroke="#1a1a1a" stroke-width="0.3">E</text>
<text x="653.94" y="305.5" font-size="10.61" textLength="5.55" lengthAdjust="spacingAndGlyphs" fill="#1a1a1a" stroke="#1a1a1a" stroke-width="0.3">1</text>
<text x="645.16" y="406.3" font-size="16.42" textLength="7.63" lengthAdjust="spacingAndGlyphs" fill="#1a1a1a" stroke="#1a1a1a" stroke-width="0.3">E</text>
<text x="653.84" y="411.09" font-size="11.02" textLength="6.52" lengthAdjust="spacingAndGlyphs" fill="#1a1a1a" stroke="#1a1a1a" stroke-width="0.3">0</text></g>
<g stroke="#000" stroke-width="0.3"><text x="294.58" y="16.8" font-size="23.18" textLength="6.03" lengthAdjust="spacingAndGlyphs">(</text>
<text x="317.09" y="16.8" font-size="23.18" textLength="6.03" lengthAdjust="spacingAndGlyphs">)</text>
<text x="302.6" y="16.3" font-size="20.97" textLength="12.99" lengthAdjust="spacingAndGlyphs">b</text></g>
<g class="pt"><g stroke="#000" stroke-width="0.3"><text x="-0.82" y="251.1" font-size="23.18" textLength="6.03" lengthAdjust="spacingAndGlyphs">(</text>
<text x="20.59" y="251.1" font-size="23.18" textLength="6.03" lengthAdjust="spacingAndGlyphs">)</text>
<text x="6.82" y="250.6" font-size="20.81" textLength="11.48" lengthAdjust="spacingAndGlyphs">c</text></g>
<path d="M74.4 263.6 V399.7 M73.6 398.9 H253.3" stroke="#000" stroke-width="1.5" fill="none"/>
<path d="M71.6 398.9 H74.4 M71.6 334.7 H74.4 M71.6 270.5 H74.4 M72.8 366.8 H74.4 M72.8 302.6 H74.4 M74.4 398.9 V401.8 M129.1 398.9 V401.8 M183.8 398.9 V401.8 M238.5 398.9 V401.8 M101.75 398.9 V400.6 M156.45 398.9 V400.6 M211.15 398.9 V400.6" stroke="#000" stroke-width="1.2" fill="none"/>
<text x="71.9" y="275.7" font-size="14.4" text-anchor="end">1.0</text>
<text x="71.9" y="339.8" font-size="14.4" text-anchor="end">0.5</text>
<text x="71.9" y="404" font-size="14.4" text-anchor="end">0.0</text>
<text x="74.4" y="412.6" font-size="14" text-anchor="middle">0</text>
<text x="129.1" y="412.6" font-size="14" text-anchor="middle">200</text>
<text x="183.8" y="412.6" font-size="14" text-anchor="middle">400</text>
<text x="238.5" y="412.6" font-size="14" text-anchor="middle">600</text>
<text x="116.7" y="429.9" font-size="14.83" textLength="93.18" lengthAdjust="spacingAndGlyphs">Position (nm)</text>
<g transform="rotate(-90)"><text x="-381.37" y="43.4" font-size="15.26" textLength="100.96" lengthAdjust="spacingAndGlyphs">Intensity (a.u.)</text></g>
<path d="M74.4 345.82 L74.95 345.46 L75.49 345.09 L76.04 344.72 L76.59 344.33 L77.14 343.94 L77.68 343.53 L78.23 343.12 L78.78 342.7 L79.32 342.26 L79.87 341.82 L80.42 341.37 L80.96 340.91 L81.51 340.44 L82.06 339.95 L82.61 339.46 L83.15 338.96 L83.7 338.45 L84.25 337.93 L84.79 337.4 L85.34 336.86 L85.89 336.31 L86.43 335.75 L86.98 335.17 L87.53 334.59 L88.08 334 L88.62 333.4 L89.17 332.79 L89.72 332.17 L90.26 331.54 L90.81 330.9 L91.36 330.26 L91.9 329.6 L92.45 328.93 L93 328.26 L93.55 327.57 L94.09 326.88 L94.64 326.18 L95.19 325.47 L95.73 324.75 L96.28 324.02 L96.83 323.29 L97.37 322.54 L97.92 321.79 L98.47 321.04 L99.02 320.27 L99.56 319.5 L100.11 318.73 L100.66 317.95 L101.2 317.16 L101.75 316.36 L102.3 315.56 L102.84 314.76 L103.39 313.95 L103.94 313.14 L104.49 312.32 L105.03 311.5 L105.58 310.68 L106.13 309.85 L106.67 309.03 L107.22 308.2 L107.77 307.37 L108.31 306.53 L108.86 305.7 L109.41 304.87 L109.96 304.03 L110.5 303.2 L111.05 302.37 L111.6 301.54 L112.14 300.71 L112.69 299.89 L113.24 299.07 L113.78 298.25 L114.33 297.43 L114.88 296.62 L115.43 295.82 L115.97 295.02 L116.52 294.22 L117.07 293.44 L117.61 292.66 L118.16 291.88 L118.71 291.12 L119.25 290.36 L119.8 289.61 L120.35 288.88 L120.9 288.15 L121.44 287.43 L121.99 286.72 L122.54 286.03 L123.08 285.34 L123.63 284.67 L124.18 284.01 L124.72 283.37 L125.27 282.74 L125.82 282.12 L126.37 281.52 L126.91 280.93 L127.46 280.36 L128.01 279.8 L128.55 279.26 L129.1 278.74 L129.65 278.24 L130.19 277.75 L130.74 277.28 L131.29 276.83 L131.84 276.39 L132.38 275.98 L132.93 275.58 L133.48 275.21 L134.02 274.85 L134.57 274.52 L135.12 274.2 L135.66 273.91 L136.21 273.63 L136.76 273.38 L137.31 273.15 L137.85 272.94 L138.4 272.75 L138.95 272.59 L139.49 272.44 L140.04 272.32 L140.59 272.22 L141.13 272.14 L141.68 272.09 L142.23 272.05 L142.78 272.04 L143.32 272.05 L143.87 272.09 L144.42 272.14 L144.96 272.22 L145.51 272.32 L146.06 272.44 L146.6 272.59 L147.15 272.75 L147.7 272.94 L148.25 273.15 L148.79 273.38 L149.34 273.63 L149.89 273.91 L150.43 274.2 L150.98 274.52 L151.53 274.85 L152.07 275.21 L152.62 275.58 L153.17 275.98 L153.72 276.39 L154.26 276.83 L154.81 277.28 L155.36 277.75 L155.9 278.24 L156.45 278.74 L157 279.26 L157.54 279.8 L158.09 280.36 L158.64 280.93 L159.19 281.52 L159.73 282.12 L160.28 282.74 L160.83 283.37 L161.37 284.01 L161.92 284.67 L162.47 285.34 L163.01 286.03 L163.56 286.72 L164.11 287.43 L164.66 288.15 L165.2 288.88 L165.75 289.61 L166.3 290.36 L166.84 291.12 L167.39 291.88 L167.94 292.66 L168.48 293.44 L169.03 294.22 L169.58 295.02 L170.12 295.82 L170.67 296.62 L171.22 297.43 L171.77 298.25 L172.31 299.07 L172.86 299.89 L173.41 300.71 L173.95 301.54 L174.5 302.37 L175.05 303.2 L175.6 304.03 L176.14 304.87 L176.69 305.7 L177.24 306.53 L177.78 307.37 L178.33 308.2 L178.88 309.03 L179.42 309.85 L179.97 310.68 L180.52 311.5 L181.06 312.32 L181.61 313.14 L182.16 313.95 L182.71 314.76 L183.25 315.56 L183.8 316.36 L184.35 317.16 L184.89 317.95 L185.44 318.73 L185.99 319.5 L186.54 320.27 L187.08 321.04 L187.63 321.79 L188.18 322.54 L188.72 323.29 L189.27 324.02 L189.82 324.75 L190.36 325.47 L190.91 326.18 L191.46 326.88 L192 327.57 L192.55 328.26 L193.1 328.93 L193.65 329.6 L194.19 330.26 L194.74 330.9 L195.29 331.54 L195.83 332.17 L196.38 332.79 L196.93 333.4 L197.48 334 L198.02 334.59 L198.57 335.17 L199.12 335.75 L199.66 336.31 L200.21 336.86 L200.76 337.4 L201.3 337.93 L201.85 338.45 L202.4 338.96 L202.95 339.46 L203.49 339.95 L204.04 340.44 L204.59 340.91 L205.13 341.37 L205.68 341.82 L206.23 342.26 L206.77 342.7 L207.32 343.12 L207.87 343.53 L208.42 343.94 L208.96 344.33 L209.51 344.72 L210.06 345.09 L210.6 345.46 L211.15 345.82 L211.7 346.17 L212.24 346.51 L212.79 346.84 L213.34 347.17 L213.89 347.48 L214.43 347.79 L214.98 348.09 L215.53 348.38 L216.07 348.66 L216.62 348.93 L217.17 349.2 L217.71 349.46" stroke="#000" stroke-width="1.7" fill="none"/>
<path d="M74.4 367.44 L74.67 367.44 L74.95 367.44 L75.22 367.44 L75.49 367.44 L75.77 367.44 L76.04 367.44 L76.31 367.44 L76.59 367.44 L76.86 367.44 L77.14 367.44 L77.41 367.44 L77.68 367.44 L77.96 367.44 L78.23 367.44 L78.5 367.44 L78.78 367.44 L79.05 367.44 L79.32 367.44 L79.6 367.44 L79.87 367.44 L80.14 367.44 L80.42 367.44 L80.69 367.44 L80.96 367.44 L81.24 367.44 L81.51 367.44 L81.78 367.44 L82.06 367.44 L82.33 367.44 L82.61 367.44 L82.88 367.44 L83.15 367.44 L83.43 367.44 L83.7 367.44 L83.97 367.44 L84.25 367.44 L84.52 367.44 L84.79 367.44 L85.07 367.44 L85.34 367.44 L85.61 367.44 L85.89 367.44 L86.16 367.44 L86.43 367.44 L86.71 367.44 L86.98 367.44 L87.25 367.44 L87.53 367.44 L87.8 367.44 L88.08 367.44 L88.35 367.44 L88.62 367.44 L88.9 367.44 L89.17 367.44 L89.44 367.44 L89.72 367.44 L89.99 367.44 L90.26 367.44 L90.54 367.44 L90.81 367.44 L91.08 367.44 L91.36 367.44 L91.63 367.44 L91.9 367.44 L92.18 367.44 L92.45 367.44 L92.72 367.44 L93 367.44 L93.27 367.44 L93.55 367.44 L93.82 367.44 L94.09 367.44 L94.37 367.44 L94.64 367.44 L94.91 367.44 L95.19 367.44 L95.46 367.44 L95.73 367.44 L96.01 367.44 L96.28 367.44 L96.55 367.44 L96.83 367.44 L97.1 367.44 L97.37 367.44 L97.65 367.44 L97.92 367.44 L98.19 367.44 L98.47 367.44 L98.74 367.44 L99.02 367.44 L99.29 367.44 L99.56 367.44 L99.84 367.44 L100.11 367.44 L100.38 367.44 L100.66 367.44 L100.93 367.44 L101.2 367.44 L101.48 367.44 L101.75 367.44 L102.02 367.44 L102.3 367.44 L102.57 367.44 L102.84 367.44 L103.12 367.44 L103.39 367.44 L103.66 367.44 L103.94 367.44 L104.21 367.44 L104.49 367.44 L104.76 367.44 L105.03 367.44 L105.31 367.44 L105.58 367.44 L105.85 367.44 L106.13 367.44 L106.4 367.44 L106.67 367.44 L106.95 367.44 L107.22 367.44 L107.49 367.44 L107.77 367.44 L108.04 367.44 L108.31 367.44 L108.59 367.44 L108.86 367.44 L109.13 367.44 L109.41 367.44 L109.68 367.44 L109.96 367.43 L110.23 367.43 L110.5 367.43 L110.78 367.43 L111.05 367.43 L111.32 367.43 L111.6 367.42 L111.87 367.42 L112.14 367.42 L112.42 367.42 L112.69 367.41 L112.96 367.41 L113.24 367.4 L113.51 367.4 L113.78 367.39 L114.06 367.38 L114.33 367.38 L114.6 367.37 L114.88 367.36 L115.15 367.35 L115.43 367.34 L115.7 367.32 L115.97 367.31 L116.25 367.29 L116.52 367.27 L116.79 367.25 L117.07 367.23 L117.34 367.2 L117.61 367.18 L117.89 367.15 L118.16 367.11 L118.43 367.07 L118.71 367.03 L118.98 366.99 L119.25 366.94 L119.53 366.88 L119.8 366.82 L120.07 366.75 L120.35 366.68 L120.62 366.6 L120.9 366.51 L121.17 366.42 L121.44 366.31 L121.72 366.2 L121.99 366.07 L122.26 365.94 L122.54 365.79 L122.81 365.64 L123.08 365.47 L123.36 365.28 L123.63 365.08 L123.9 364.87 L124.18 364.63 L124.45 364.38 L124.72 364.11 L125 363.82 L125.27 363.51 L125.54 363.18 L125.82 362.83 L126.09 362.45 L126.37 362.04 L126.64 361.61 L126.91 361.15 L127.19 360.66 L127.46 360.14 L127.73 359.59 L128.01 359 L128.28 358.39 L128.55 357.73 L128.83 357.04 L129.1 356.31 L129.37 355.55 L129.65 354.74 L129.92 353.89 L130.19 353.01 L130.47 352.08 L130.74 351.1 L131.01 350.09 L131.29 349.03 L131.56 347.92 L131.84 346.77 L132.11 345.58 L132.38 344.34 L132.66 343.05 L132.93 341.72 L133.2 340.35 L133.48 338.93 L133.75 337.47 L134.02 335.97 L134.3 334.43 L134.57 332.84 L134.84 331.22 L135.12 329.57 L135.39 327.87 L135.66 326.15 L135.94 324.39 L136.21 322.61 L136.48 320.8 L136.76 318.97 L137.03 317.12 L137.31 315.25 L137.58 313.38 L137.85 311.49 L138.13 309.59 L138.4 307.7 L138.67 305.8 L138.95 303.91 L139.22 302.03 L139.49 300.17 L139.77 298.33 L140.04 296.5 L140.31 294.71 L140.59 292.95 L140.86 291.22 L141.13 289.54 L141.41 287.9 L141.68 286.31 L141.95 284.78 L142.23 283.3 L142.5 281.89 L142.78 280.55 L143.05 279.27 L143.32 278.07 L143.6 276.95 L143.87 275.9 L144.14 274.95 L144.42 274.08 L144.69 273.3 L144.96 272.61 L145.24 272.01 L145.51 271.52 L145.78 271.12 L146.06 270.81 L146.33 270.61 L146.6 270.51 L146.88 270.51 L147.15 270.61 L147.42 270.81 L147.7 271.12 L147.97 271.52 L148.25 272.01 L148.52 272.61 L148.79 273.3 L149.07 274.08 L149.34 274.95 L149.61 275.9 L149.89 276.95 L150.16 278.07 L150.43 279.27 L150.71 280.55 L150.98 281.89 L151.25 283.3 L151.53 284.78 L151.8 286.31 L152.07 287.9 L152.35 289.54 L152.62 291.22 L152.89 292.95 L153.17 294.71 L153.44 296.5 L153.72 298.33 L153.99 300.17 L154.26 302.03 L154.54 303.91 L154.81 305.8 L155.08 307.7 L155.36 309.59 L155.63 311.49 L155.9 313.38 L156.18 315.25 L156.45 317.12 L156.72 318.97 L157 320.8 L157.27 322.61 L157.54 324.39 L157.82 326.15 L158.09 327.87 L158.36 329.57 L158.64 331.22 L158.91 332.84 L159.19 334.43 L159.46 335.97 L159.73 337.47 L160.01 338.93 L160.28 340.35 L160.55 341.72 L160.83 343.05 L161.1 344.34 L161.37 345.58 L161.65 346.77 L161.92 347.92 L162.19 349.03 L162.47 350.09 L162.74 351.1 L163.01 352.08 L163.29 353.01 L163.56 353.89 L163.83 354.74 L164.11 355.55 L164.38 356.31 L164.66 357.04 L164.93 357.73 L165.2 358.39 L165.48 359 L165.75 359.59 L166.02 360.14 L166.3 360.66 L166.57 361.15 L166.84 361.61 L167.12 362.04 L167.39 362.45 L167.66 362.83 L167.94 363.18 L168.21 363.51 L168.48 363.82 L168.76 364.11 L169.03 364.38 L169.3 364.63 L169.58 364.87 L169.85 365.08 L170.12 365.28 L170.4 365.47 L170.67 365.64 L170.95 365.79 L171.22 365.94 L171.49 366.07 L171.77 366.2 L172.04 366.31 L172.31 366.42 L172.59 366.51 L172.86 366.6 L173.13 366.68 L173.41 366.75 L173.68 366.82 L173.95 366.88 L174.23 366.94 L174.5 366.99 L174.77 367.03 L175.05 367.07 L175.32 367.11 L175.6 367.15 L175.87 367.18 L176.14 367.2 L176.42 367.23 L176.69 367.25 L176.96 367.27 L177.24 367.29 L177.51 367.31 L177.78 367.32 L178.06 367.34 L178.33 367.35 L178.6 367.36 L178.88 367.37 L179.15 367.38 L179.42 367.38 L179.7 367.39 L179.97 367.4 L180.24 367.4 L180.52 367.41 L180.79 367.41 L181.06 367.42 L181.34 367.42 L181.61 367.42 L181.89 367.42 L182.16 367.43 L182.43 367.43 L182.71 367.43 L182.98 367.43 L183.25 367.43 L183.53 367.43 L183.8 367.44 L184.07 367.44 L184.35 367.44 L184.62 367.44 L184.89 367.44 L185.17 367.44 L185.44 367.44 L185.71 367.44 L185.99 367.44 L186.26 367.44 L186.54 367.44 L186.81 367.44 L187.08 367.44 L187.36 367.44 L187.63 367.44 L187.9 367.44 L188.18 367.44 L188.45 367.44 L188.72 367.44 L189 367.44 L189.27 367.44 L189.54 367.44 L189.82 367.44 L190.09 367.44 L190.36 367.44 L190.64 367.44 L190.91 367.44 L191.18 367.44 L191.46 367.44 L191.73 367.44 L192 367.44 L192.28 367.44 L192.55 367.44 L192.83 367.44 L193.1 367.44 L193.37 367.44 L193.65 367.44 L193.92 367.44 L194.19 367.44 L194.47 367.44 L194.74 367.44 L195.01 367.44 L195.29 367.44 L195.56 367.44 L195.83 367.44 L196.11 367.44 L196.38 367.44 L196.65 367.44 L196.93 367.44 L197.2 367.44 L197.48 367.44 L197.75 367.44 L198.02 367.44 L198.3 367.44 L198.57 367.44 L198.84 367.44 L199.12 367.44 L199.39 367.44 L199.66 367.44 L199.94 367.44 L200.21 367.44 L200.48 367.44 L200.76 367.44 L201.03 367.44 L201.3 367.44 L201.58 367.44 L201.85 367.44 L202.12 367.44 L202.4 367.44 L202.67 367.44 L202.95 367.44 L203.22 367.44 L203.49 367.44 L203.77 367.44 L204.04 367.44 L204.31 367.44 L204.59 367.44 L204.86 367.44 L205.13 367.44 L205.41 367.44 L205.68 367.44 L205.95 367.44 L206.23 367.44 L206.5 367.44 L206.77 367.44 L207.05 367.44 L207.32 367.44 L207.59 367.44 L207.87 367.44 L208.14 367.44 L208.42 367.44 L208.69 367.44 L208.96 367.44 L209.24 367.44 L209.51 367.44 L209.78 367.44 L210.06 367.44 L210.33 367.44 L210.6 367.44 L210.88 367.44 L211.15 367.44 L211.42 367.44 L211.7 367.44 L211.97 367.44 L212.24 367.44 L212.52 367.44 L212.79 367.44 L213.06 367.44 L213.34 367.44 L213.61 367.44 L213.89 367.44 L214.16 367.44 L214.43 367.44 L214.71 367.44 L214.98 367.44 L215.25 367.44 L215.53 367.44 L215.8 367.44 L216.07 367.44 L216.35 367.44 L216.62 367.44 L216.89 367.44 L217.17 367.44 L217.44 367.44 L217.71 367.44 L217.99 367.44" stroke="#f52a2a" stroke-width="1.7" fill="none"/>
<rect x="75.8" y="338.9" width="3.4" height="3.4" fill="#000"/>
<rect x="79.6" y="334.5" width="3.4" height="3.4" fill="#000"/>
<rect x="83.4" y="331.7" width="3.4" height="3.4" fill="#000"/>
<rect x="87.2" y="333" width="3.4" height="3.4" fill="#000"/>
<rect x="90.6" y="334.5" width="3.4" height="3.4" fill="#000"/>
<rect x="94" y="334.5" width="3.4" height="3.4" fill="#000"/>
<rect x="97.5" y="329.8" width="3.4" height="3.4" fill="#000"/>
<rect x="101" y="321.8" width="3.4" height="3.4" fill="#000"/>
<rect x="104.6" y="311.1" width="3.4" height="3.4" fill="#000"/>
<rect x="108.1" y="298.1" width="3.4" height="3.4" fill="#000"/>
<rect x="111.6" y="287.9" width="3.4" height="3.4" fill="#000"/>
<rect x="115.1" y="282.9" width="3.4" height="3.4" fill="#000"/>
<rect x="118.8" y="282.9" width="3.4" height="3.4" fill="#000"/>
<rect x="122.4" y="285.2" width="3.4" height="3.4" fill="#000"/>
<rect x="126.2" y="285.6" width="3.4" height="3.4" fill="#000"/>
<rect x="129.7" y="281.9" width="3.4" height="3.4" fill="#000"/>
<rect x="133.3" y="275.1" width="3.4" height="3.4" fill="#000"/>
<rect x="136.9" y="269.7" width="3.4" height="3.4" fill="#000"/>
<rect x="140.4" y="269.1" width="3.4" height="3.4" fill="#000"/>
<rect x="143.8" y="269.1" width="3.4" height="3.4" fill="#000"/>
<rect x="147.4" y="278.7" width="3.4" height="3.4" fill="#000"/>
<rect x="151.5" y="279.5" width="3.4" height="3.4" fill="#000"/>
<rect x="155.6" y="280.4" width="3.4" height="3.4" fill="#000"/>
<rect x="159.5" y="282.3" width="3.4" height="3.4" fill="#000"/>
<rect x="163.1" y="282.3" width="3.4" height="3.4" fill="#000"/>
<rect x="166.7" y="284.3" width="3.4" height="3.4" fill="#000"/>
<rect x="171.5" y="296.8" width="3.4" height="3.4" fill="#000"/>
<rect x="176" y="306.4" width="3.4" height="3.4" fill="#000"/>
<rect x="179.6" y="310.7" width="3.4" height="3.4" fill="#000"/>
<rect x="183.3" y="313.6" width="3.4" height="3.4" fill="#000"/>
<rect x="187.6" y="317.2" width="3.4" height="3.4" fill="#000"/>
<rect x="191.2" y="325.1" width="3.4" height="3.4" fill="#000"/>
<rect x="194.8" y="333.3" width="3.4" height="3.4" fill="#000"/>
<rect x="198.4" y="339.3" width="3.4" height="3.4" fill="#000"/>
<rect x="202" y="340.5" width="3.4" height="3.4" fill="#000"/>
<rect x="205.6" y="341.7" width="3.4" height="3.4" fill="#000"/>
<rect x="209.7" y="342.4" width="3.4" height="3.4" fill="#000"/>
<rect x="213.3" y="342.9" width="3.4" height="3.4" fill="#000"/>
<rect x="216.4" y="344.1" width="3.4" height="3.4" fill="#000"/>
<circle cx="75.3" cy="369.2" r="1.8" fill="#f52a2a"/>
<circle cx="77.9" cy="369.2" r="1.8" fill="#f52a2a"/>
<circle cx="81.3" cy="369.2" r="1.8" fill="#f52a2a"/>
<circle cx="85.1" cy="365.5" r="1.8" fill="#f52a2a"/>
<circle cx="88.5" cy="360.8" r="1.8" fill="#f52a2a"/>
<circle cx="92.1" cy="356.4" r="1.8" fill="#f52a2a"/>
<circle cx="95.7" cy="357.9" r="1.8" fill="#f52a2a"/>
<circle cx="99.2" cy="366" r="1.8" fill="#f52a2a"/>
<circle cx="102.6" cy="372.5" r="1.8" fill="#f52a2a"/>
<circle cx="106.4" cy="377.9" r="1.8" fill="#f52a2a"/>
<circle cx="110" cy="375.5" r="1.8" fill="#f52a2a"/>
<circle cx="113.8" cy="367.4" r="1.8" fill="#f52a2a"/>
<circle cx="117.2" cy="358.9" r="1.8" fill="#f52a2a"/>
<circle cx="120.6" cy="354.7" r="1.8" fill="#f52a2a"/>
<circle cx="124.3" cy="359.2" r="1.8" fill="#f52a2a"/>
<circle cx="127.9" cy="363.2" r="1.8" fill="#f52a2a"/>
<circle cx="131.5" cy="360.2" r="1.8" fill="#f52a2a"/>
<circle cx="135.3" cy="340.6" r="1.8" fill="#f52a2a"/>
<circle cx="138.7" cy="310.2" r="1.8" fill="#f52a2a"/>
<circle cx="142.2" cy="284" r="1.8" fill="#f52a2a"/>
<circle cx="145.8" cy="270.5" r="1.8" fill="#f52a2a"/>
<circle cx="149.2" cy="280" r="1.8" fill="#f52a2a"/>
<circle cx="152.6" cy="297.3" r="1.8" fill="#f52a2a"/>
<circle cx="156.3" cy="315.8" r="1.8" fill="#f52a2a"/>
<circle cx="160.4" cy="330.2" r="1.8" fill="#f52a2a"/>
<circle cx="164" cy="346.5" r="1.8" fill="#f52a2a"/>
<circle cx="167.6" cy="355.7" r="1.8" fill="#f52a2a"/>
<circle cx="171.3" cy="363.8" r="1.8" fill="#f52a2a"/>
<circle cx="174.9" cy="368.2" r="1.8" fill="#f52a2a"/>
<circle cx="178.5" cy="367.7" r="1.8" fill="#f52a2a"/>
<circle cx="182.1" cy="361" r="1.8" fill="#f52a2a"/>
<circle cx="185.7" cy="356.6" r="1.8" fill="#f52a2a"/>
<circle cx="189.3" cy="359" r="1.8" fill="#f52a2a"/>
<circle cx="192.9" cy="369.4" r="1.8" fill="#f52a2a"/>
<circle cx="196.5" cy="379.7" r="1.8" fill="#f52a2a"/>
<circle cx="200.1" cy="383.1" r="1.8" fill="#f52a2a"/>
<circle cx="203.7" cy="384.3" r="1.8" fill="#f52a2a"/>
<circle cx="207.3" cy="381.4" r="1.8" fill="#f52a2a"/>
<circle cx="210.9" cy="374.9" r="1.8" fill="#f52a2a"/>
<circle cx="214.5" cy="365.8" r="1.8" fill="#f52a2a"/>
<circle cx="218.1" cy="355.7" r="1.8" fill="#f52a2a"/>
<rect x="189.2" y="251.2" width="3" height="3" fill="#000"/>
<circle cx="190.7" cy="267.6" r="1.5" fill="#f52a2a"/>
<path d="M177 282 H204.1" stroke="#000" stroke-width="1.5"/>
<path d="M177 296.9 H204.1" stroke="#f52a2a" stroke-width="1.5"/>
<text x="207.48" y="256.6" font-size="12.06" textLength="30.78" lengthAdjust="spacingAndGlyphs">STED</text>
<text x="207.81" y="271" font-size="11.63" textLength="45.97" lengthAdjust="spacingAndGlyphs">Confocal</text>
<text x="207.23" y="286.2" font-size="11.19" textLength="79.87" lengthAdjust="spacingAndGlyphs">Fitted Confocal</text>
<text x="207.24" y="300.3" font-size="11.05" textLength="63.92" lengthAdjust="spacingAndGlyphs">Fitted STED</text>
<rect x="231.1" y="315.4" width="30.2" height="30.1" fill="#000"/>
<ellipse cx="245.8" cy="329.6" rx="14" ry="13.5" fill="url(#gblob)"/>
<rect x="245.11" y="329.62" width="1.2" height="1.2" fill="#2fbf4f" opacity="0.72"/>
<rect x="247.23" y="319.47" width="1.2" height="1.2" fill="#000000" opacity="0.62"/>
<rect x="249.65" y="327.02" width="1.2" height="1.2" fill="#000000" opacity="0.49"/>
<rect x="249.03" y="332.63" width="1.2" height="1.2" fill="#000000" opacity="0.31"/>
<rect x="246.01" y="332.41" width="1.2" height="1.2" fill="#27a843" opacity="0.38"/>
<rect x="246.99" y="331.77" width="1.2" height="1.2" fill="#2fbf4f" opacity="0.79"/>
<rect x="247.6" y="330.07" width="1.2" height="1.2" fill="#000000" opacity="0.78"/>
<rect x="246.82" y="332.25" width="1.2" height="1.2" fill="#000000" opacity="0.57"/>
<rect x="243.53" y="325.95" width="1.2" height="1.2" fill="#000000" opacity="0.39"/>
<rect x="250.49" y="329" width="1.2" height="1.2" fill="#27a843" opacity="0.45"/>
<rect x="246.18" y="331.16" width="1.2" height="1.2" fill="#0a3a12" opacity="0.71"/>
<rect x="244" y="329.1" width="1.2" height="1.2" fill="#0a3a12" opacity="0.33"/>
<rect x="243.54" y="332.52" width="1.2" height="1.2" fill="#000000" opacity="0.54"/>
<rect x="243.06" y="321.65" width="1.2" height="1.2" fill="#2fbf4f" opacity="0.43"/>
<rect x="250.47" y="328" width="1.2" height="1.2" fill="#27a843" opacity="0.31"/>
<rect x="245.92" y="328.28" width="1.2" height="1.2" fill="#0a3a12" opacity="0.49"/>
<rect x="250.38" y="322.44" width="1.2" height="1.2" fill="#000000" opacity="0.36"/>
<rect x="245.57" y="332.75" width="1.2" height="1.2" fill="#27a843" opacity="0.47"/>
<rect x="239.23" y="338.11" width="1.2" height="1.2" fill="#2fbf4f" opacity="0.59"/>
<rect x="245.81" y="328.43" width="1.2" height="1.2" fill="#0a3a12" opacity="0.73"/>
<rect x="247.91" y="330.56" width="1.2" height="1.2" fill="#0a3a12" opacity="0.56"/>
<rect x="244.93" y="330.67" width="1.2" height="1.2" fill="#000000" opacity="0.47"/>
<rect x="249.93" y="327.71" width="1.2" height="1.2" fill="#0a3a12" opacity="0.45"/>
<rect x="245.94" y="328.61" width="1.2" height="1.2" fill="#000000" opacity="0.66"/>
<rect x="242.03" y="338.87" width="1.2" height="1.2" fill="#2fbf4f" opacity="0.79"/>
<rect x="244.55" y="329.8" width="1.2" height="1.2" fill="#27a843" opacity="0.32"/>
<rect x="245.35" y="327.47" width="1.2" height="1.2" fill="#27a843" opacity="0.37"/>
<rect x="249.25" y="329.5" width="1.2" height="1.2" fill="#2fbf4f" opacity="0.7"/>
<rect x="243.22" y="333.9" width="1.2" height="1.2" fill="#000000" opacity="0.62"/>
<rect x="247.95" y="331.94" width="1.2" height="1.2" fill="#27a843" opacity="0.45"/>
<rect x="244.2" y="330.4" width="1.2" height="1.2" fill="#000000" opacity="0.79"/>
<rect x="236.23" y="332.78" width="1.2" height="1.2" fill="#27a843" opacity="0.44"/>
<rect x="244.79" y="330.13" width="1.2" height="1.2" fill="#000000" opacity="0.36"/>
<rect x="247.12" y="326.67" width="1.2" height="1.2" fill="#27a843" opacity="0.73"/>
<rect x="245.82" y="330.68" width="1.2" height="1.2" fill="#27a843" opacity="0.44"/>
<rect x="246.26" y="326.26" width="1.2" height="1.2" fill="#0a3a12" opacity="0.65"/>
<rect x="243.34" y="326.39" width="1.2" height="1.2" fill="#0a3a12" opacity="0.48"/>
<rect x="245.12" y="328.72" width="1.2" height="1.2" fill="#0a3a12" opacity="0.78"/>
<rect x="241.86" y="335.73" width="1.2" height="1.2" fill="#000000" opacity="0.59"/>
<rect x="249.85" y="330.32" width="1.2" height="1.2" fill="#0a3a12" opacity="0.53"/>
<rect x="246.04" y="328.79" width="1.2" height="1.2" fill="#0a3a12" opacity="0.47"/>
<rect x="244.97" y="329.32" width="1.2" height="1.2" fill="#0a3a12" opacity="0.76"/>
<rect x="250.76" y="339.92" width="1.2" height="1.2" fill="#27a843" opacity="0.79"/>
<rect x="252.55" y="328.03" width="1.2" height="1.2" fill="#000000" opacity="0.4"/>
<rect x="244.96" y="330.64" width="1.2" height="1.2" fill="#27a843" opacity="0.44"/>
<rect x="248.11" y="331.41" width="1.2" height="1.2" fill="#27a843" opacity="0.45"/>
<rect x="240.33" y="328.2" width="1.2" height="1.2" fill="#0a3a12" opacity="0.66"/>
<rect x="248.91" y="330.6" width="1.2" height="1.2" fill="#000000" opacity="0.41"/>
<rect x="243.36" y="324.97" width="1.2" height="1.2" fill="#2fbf4f" opacity="0.79"/>
<rect x="251.84" y="329.19" width="1.2" height="1.2" fill="#2fbf4f" opacity="0.46"/>
<rect x="250.05" y="339.93" width="1.2" height="1.2" fill="#000000" opacity="0.57"/>
<rect x="240.98" y="332.66" width="1.2" height="1.2" fill="#2fbf4f" opacity="0.6"/>
<rect x="246.04" y="337.1" width="1.2" height="1.2" fill="#0a3a12" opacity="0.3"/>
<rect x="244.59" y="330.62" width="1.2" height="1.2" fill="#2fbf4f" opacity="0.64"/>
<rect x="239.7" y="328.23" width="1.2" height="1.2" fill="#2fbf4f" opacity="0.57"/>
<rect x="244.86" y="331.91" width="1.2" height="1.2" fill="#0a3a12" opacity="0.78"/>
<rect x="248.38" y="323.73" width="1.2" height="1.2" fill="#27a843" opacity="0.5"/>
<rect x="239.48" y="327.44" width="1.2" height="1.2" fill="#000000" opacity="0.6"/>
<rect x="244.02" y="329.37" width="1.2" height="1.2" fill="#000000" opacity="0.78"/>
<rect x="239.65" y="325.25" width="1.2" height="1.2" fill="#2fbf4f" opacity="0.49"/>
<rect x="240.8" y="339.08" width="1.2" height="1.2" fill="#000000" opacity="0.46"/>
<rect x="249.67" y="325.91" width="1.2" height="1.2" fill="#000000" opacity="0.55"/>
<rect x="243.02" y="330.32" width="1.2" height="1.2" fill="#27a843" opacity="0.49"/>
<rect x="248.17" y="326.56" width="1.2" height="1.2" fill="#0a3a12" opacity="0.55"/>
<rect x="239.66" y="333.43" width="1.2" height="1.2" fill="#0a3a12" opacity="0.77"/>
<rect x="244.43" y="332.82" width="1.2" height="1.2" fill="#2fbf4f" opacity="0.36"/>
<rect x="244.47" y="329.01" width="1.2" height="1.2" fill="#27a843" opacity="0.42"/>
<rect x="249.3" y="330.97" width="1.2" height="1.2" fill="#27a843" opacity="0.57"/>
<rect x="244.83" y="334.48" width="1.2" height="1.2" fill="#27a843" opacity="0.69"/>
<rect x="245.51" y="330.39" width="1.2" height="1.2" fill="#0a3a12" opacity="0.45"/>
<rect x="242.81" y="327.83" width="1.2" height="1.2" fill="#27a843" opacity="0.56"/>
<rect x="251.6" y="322.95" width="1.2" height="1.2" fill="#2fbf4f" opacity="0.68"/>
<rect x="242.78" y="338.25" width="1.2" height="1.2" fill="#0a3a12" opacity="0.61"/>
<rect x="244.86" y="324.55" width="1.2" height="1.2" fill="#000000" opacity="0.32"/>
<rect x="245.49" y="330.93" width="1.2" height="1.2" fill="#27a843" opacity="0.64"/>
<rect x="246.67" y="330.94" width="1.2" height="1.2" fill="#27a843" opacity="0.69"/>
<rect x="242.26" y="331.58" width="1.2" height="1.2" fill="#27a843" opacity="0.73"/>
<rect x="250.37" y="322.45" width="1.2" height="1.2" fill="#000000" opacity="0.75"/>
<rect x="244.15" y="330.3" width="1.2" height="1.2" fill="#2fbf4f" opacity="0.45"/>
<rect x="246.94" y="330.03" width="1.2" height="1.2" fill="#27a843" opacity="0.76"/>
<rect x="250.37" y="336.09" width="1.2" height="1.2" fill="#27a843" opacity="0.65"/>
<rect x="251.12" y="325.27" width="1.2" height="1.2" fill="#27a843" opacity="0.59"/>
<rect x="245.98" y="328.83" width="1.2" height="1.2" fill="#2fbf4f" opacity="0.67"/>
<rect x="245.3" y="331.85" width="1.2" height="1.2" fill="#2fbf4f" opacity="0.47"/>
<rect x="244.5" y="330.47" width="1.2" height="1.2" fill="#2fbf4f" opacity="0.8"/>
<rect x="242.19" y="319.52" width="1.2" height="1.2" fill="#000000" opacity="0.61"/>
<rect x="247.07" y="326.89" width="1.2" height="1.2" fill="#2fbf4f" opacity="0.66"/>
<rect x="231.1" y="315.4" width="30.2" height="30.1" fill="none" stroke="#e8197d" stroke-width="1.6" stroke-dasharray="4 2.3"/>
<rect x="230.5" y="348.1" width="31.1" height="30.6" fill="#000" stroke="#e8197d" stroke-width="1.6"/>
<circle cx="245.5" cy="363.2" r="1.6" fill="#1fa83a"/></g>
<g stroke="#000" stroke-width="0.3"><text x="-0.52" y="462.87" font-size="22.86" textLength="6.03" lengthAdjust="spacingAndGlyphs">(</text>
<text x="21.49" y="462.87" font-size="22.86" textLength="6.03" lengthAdjust="spacingAndGlyphs">)</text>
<text x="7.08" y="462.49" font-size="21.11" textLength="12.24" lengthAdjust="spacingAndGlyphs">d</text></g>
<rect x="39.2" y="452" width="129.2" height="128.6" fill="#000"/>
<circle cx="140.8" cy="466.9" r="2.3" fill="#ff19ff" filter="url(#blur2)"/>
<circle cx="152.9" cy="483.3" r="1.5" fill="#ff19ff" filter="url(#blur2)"/>
<circle cx="71.9" cy="488.4" r="2" fill="#ff19ff" filter="url(#blur2)"/>
<circle cx="134" cy="498.9" r="1.5" fill="#ff19ff" filter="url(#blur2)"/>
<circle cx="81.3" cy="498.6" r="2" fill="#ff19ff" filter="url(#blur2)"/>
<circle cx="86.7" cy="502.1" r="2" fill="#ff19ff" filter="url(#blur2)"/>
<circle cx="89.6" cy="510.8" r="1.3" fill="#ff19ff" filter="url(#blur2)"/>
<circle cx="160.4" cy="523.7" r="1.7" fill="#ff19ff" filter="url(#blur2)"/>
<rect x="78.3" y="493.9" width="12.4" height="12.3" fill="none" stroke="#ddd" stroke-width="0.9" stroke-dasharray="1.6 1.1"/>
<text x="93.4" y="511" font-size="13" fill="#fff">b</text>
<rect x="125" y="572" width="36" height="2.2" fill="#fff"/>
<text x="143.4" y="567.9" font-size="14" font-weight="bold" fill="#fff" text-anchor="middle" textLength="31.7" lengthAdjust="spacingAndGlyphs">5 µm</text>
<g stroke="#000" stroke-width="0.3"><text x="172.88" y="462.87" font-size="22.86" textLength="6.03" lengthAdjust="spacingAndGlyphs">(</text>
<text x="194.89" y="462.87" font-size="22.86" textLength="6.03" lengthAdjust="spacingAndGlyphs">)</text>
<text x="180.58" y="462.49" font-size="21.72" textLength="12.09" lengthAdjust="spacingAndGlyphs">e</text></g>
<rect x="208.1" y="451.6" width="129.5" height="129.4" fill="#000"/>
<g clip-path="url(#ep0)"><g filter="url(#blur)" fill="url(#mg)" opacity="1">
<ellipse cx="254" cy="497.8" rx="21.3" ry="14.6" transform="rotate(6 254 497.8)"/>
<path d="M283.5 513 C283 505 294 503.5 304 503.5 C312 503 320 502 320 509.5 C320 520 312 535 304 542.5 C298 547.5 292.5 542.5 290 535 C287 528 284 520 283.5 513 Z"/>
</g></g>
<rect x="208.1" y="547.6" width="33.2" height="34" fill="#fff"/>
<circle cx="218.2" cy="560.3" r="5.5" fill="#ff00ff"/>
<circle cx="231.3" cy="567.8" r="4.9" fill="#ff00ff"/>
<text x="331.5" y="467.3" font-size="14.2" font-weight="bold" fill="#fff" text-anchor="end">0 s</text>
<path transform="translate(233 470.6) scale(4.900 9.000)" d="M0.56 0 L1 0 L1 1 L0.56 1 L0.56 0.33 L0 0.52 L0 0.3 Q0.36 0.17 0.56 0 Z" fill="#fff"/>
<text x="290.5" y="555.2" font-size="14.2" font-weight="bold" fill="#fff" text-anchor="middle">2</text>
<rect x="289.8" y="571" width="38.4" height="2.2" fill="#fff"/>
<rect x="342.5" y="451.6" width="129.1" height="129.4" fill="#000"/>
<g clip-path="url(#ep1)"><g filter="url(#blur)" fill="url(#mg)" opacity="1">
<ellipse cx="384.5" cy="497.6" rx="19.2" ry="12.8" transform="rotate(12 384.5 497.6)"/>
<ellipse cx="411" cy="503.6" rx="10" ry="5.4" transform="rotate(18 411 503.6)"/>
<path d="M418 505.5 C417.5 497.5 428.5 496 438.5 496 C446.5 495.5 454.5 494.5 454.5 502 C454.5 512.5 446.5 527.5 438.5 535 C432.5 540 427 535 424.5 527.5 C421.5 520.5 418.5 512.5 418 505.5 Z"/>
</g></g>
<rect x="342.5" y="547.6" width="33.2" height="34" fill="#fff"/>
<circle cx="354.2" cy="560.5" r="5.2" fill="#ff00ff"/>
<circle cx="363.5" cy="568.5" r="4.8" fill="#ff00ff"/>
<ellipse cx="359" cy="564.3" rx="4.2" ry="2.6" transform="rotate(42 359 564.3)" fill="#ff00ff"/>
<text x="465.4" y="468.8" font-size="14.2" font-weight="bold" fill="#fff" text-anchor="end">15 s</text>
<path transform="translate(377.9 465.8) scale(5.500 8.600)" d="M0.56 0 L1 0 L1 1 L0.56 1 L0.56 0.33 L0 0.52 L0 0.3 Q0.36 0.17 0.56 0 Z" fill="#fff"/>
<text x="424.5" y="551.8" font-size="14.2" font-weight="bold" fill="#fff" text-anchor="middle">2</text>
<rect x="426.2" y="571" width="38.2" height="2.2" fill="#fff"/>
<rect x="476.6" y="451.6" width="129" height="129.4" fill="#000"/>
<g clip-path="url(#ep2)"><g filter="url(#blur)" fill="url(#mg)" opacity="1">
<ellipse cx="519.2" cy="498.3" rx="19.5" ry="12.4" transform="rotate(8 519.2 498.3)"/>
<ellipse cx="545.5" cy="503.5" rx="6" ry="3.6" transform="rotate(25 545.5 503.5)"/>
<path d="M550 507.5 C549.5 499.5 560.5 498 570.5 498 C578.5 497.5 586.5 496.5 586.5 504 C586.5 514.5 578.5 529.5 570.5 537 C564.5 542 559 537 556.5 529.5 C553.5 522.5 550.5 514.5 550 507.5 Z"/>
</g></g>
<rect x="476.6" y="547.6" width="33.2" height="34" fill="#fff"/>
<circle cx="488.7" cy="559.5" r="5.3" fill="#ff00ff"/>
<circle cx="498.8" cy="569.4" r="5" fill="#ff00ff"/>
<ellipse cx="494" cy="564.4" rx="4.2" ry="2.6" transform="rotate(42 494 564.4)" fill="#ff00ff"/>
<text x="599.8" y="468.1" font-size="14.2" font-weight="bold" fill="#fff" text-anchor="end">20 s</text>
<path transform="translate(514.2 470.6) scale(4.500 8.600)" d="M0.56 0 L1 0 L1 1 L0.56 1 L0.56 0.33 L0 0.52 L0 0.3 Q0.36 0.17 0.56 0 Z" fill="#fff"/>
<text x="567.5" y="555.9" font-size="14.2" font-weight="bold" fill="#fff" text-anchor="middle">2</text>
<rect x="561.2" y="571" width="38.2" height="2.2" fill="#fff"/>
<rect x="609.9" y="451.6" width="129.7" height="129.4" fill="#000"/>
<g clip-path="url(#ep3)"><g filter="url(#blur)" fill="url(#mg)" opacity="0.84">
<ellipse cx="640" cy="485.6" rx="16.3" ry="14.8"/>
<ellipse cx="711.3" cy="530" rx="20.3" ry="12.3" transform="rotate(58 711.3 530)"/>
</g></g>
<rect x="609.9" y="547.6" width="33.2" height="34" fill="#fff"/>
<circle cx="616.5" cy="560.9" r="5.1" fill="#ff00ff"/>
<circle cx="637.3" cy="571.2" r="5.1" fill="#ff00ff"/>
<text x="734.4" y="467.8" font-size="14.2" font-weight="bold" fill="#fff" text-anchor="end">55 s</text>
<path transform="translate(662.7 467.4) scale(4.500 9.700)" d="M0.56 0 L1 0 L1 1 L0.56 1 L0.56 0.33 L0 0.52 L0 0.3 Q0.36 0.17 0.56 0 Z" fill="#fff"/>
<text x="692.5" y="546.8" font-size="14.2" font-weight="bold" fill="#fff" text-anchor="middle">2</text>
<rect x="695.7" y="571" width="38.5" height="2.2" fill="#fff"/>
<text x="713.6" y="566.8" font-size="14.2" font-weight="bold" fill="#fff" text-anchor="middle">0.5 µm</text>
</svg></body></html>
